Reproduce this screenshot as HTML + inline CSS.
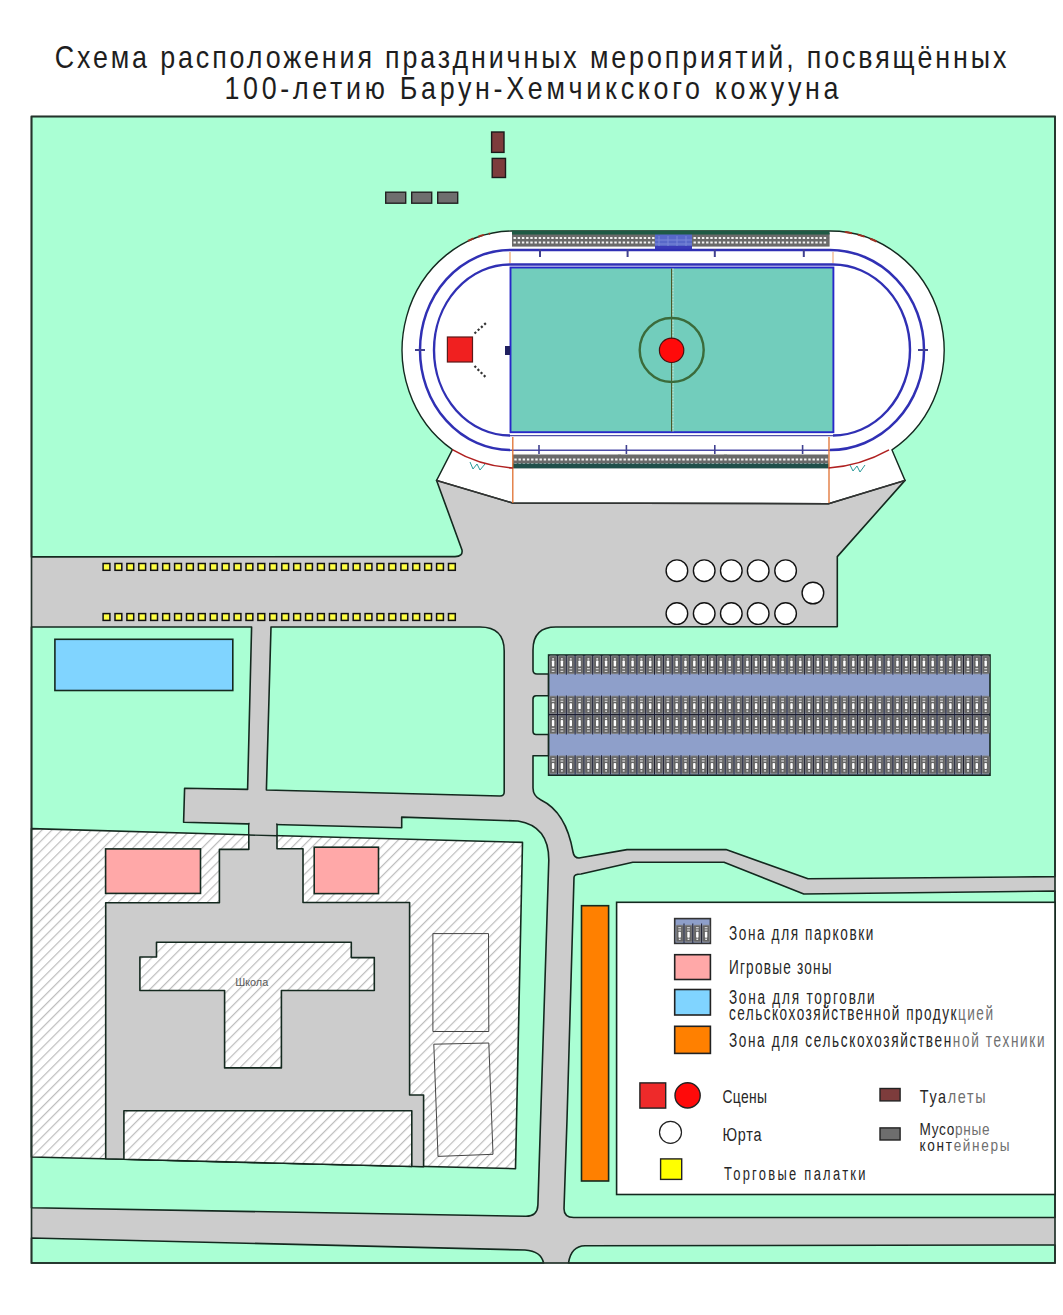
<!DOCTYPE html><html><head><meta charset="utf-8"><style>html,body{margin:0;padding:0;background:#fff;width:1063px;height:1315px;overflow:hidden}svg{display:block}text{font-family:"Liberation Sans",sans-serif}</style></head><body>
<svg width="1063" height="1315" viewBox="0 0 1063 1315">
<defs>
<pattern id="hatch" patternUnits="userSpaceOnUse" width="7" height="7" patternTransform="rotate(45)"><rect width="7" height="7" fill="#fff"/><line x1="0.6" y1="0" x2="0.6" y2="7" stroke="#bdbdbd" stroke-width="1.2"/></pattern>
</defs>
<text transform="translate(54.7,67.9) scale(0.84,1)" x="0" y="0" font-size="32" fill="#1e1e1e" textLength="1133" lengthAdjust="spacing">Схема расположения праздничных мероприятий, посвящённых</text>
<text transform="translate(224.5,99.1) scale(0.84,1)" x="0" y="0" font-size="32" fill="#1e1e1e" textLength="731" lengthAdjust="spacing">100-летию Барун-Хемчикского кожууна</text>
<rect x="31.5" y="116.5" width="1023.5" height="1146.5" fill="#cccccc"/>
<path d="M31.5,116.5 L1055,116.5 L1055,876.6 L808,878.8 L726,849.6 L627,849.6 L579,858 Q574,858 573,852 Q566,812 541,800 Q533,796 533,788 L533,755.7 L548.6,755.7 L548.6,734.5 L536,734.5 Q533,734.5 533,731 L533,699 Q533,695.7 536,695.7 L548.6,695.7 L548.6,674 L537,674 Q533,674 533,670 L533,650 Q533,627 556,627 L837.3,626.6 L837.3,556.6 L905,480.4 L436.6,480.4 L462,550 Q463,556.6 455,556.6 L31.5,556.9 Z" fill="#aaffd4" stroke="#14291f" stroke-width="1.6" stroke-linejoin="round" />
<path d="M271,627 L480,627 Q504.2,627 504.2,651 L504.2,792 Q504.2,796 500,796 L266.4,790 Z" fill="#aaffd4" stroke="#14291f" stroke-width="1.6" stroke-linejoin="round" />
<path d="M31.5,627 L251.6,627 L247.6,789.4 L184.6,788.2 L183.6,822.3 L401.7,827.7 L401.7,817.1 L518,821 Q548.8,826 548.8,860 L537.9,1205 Q537.5,1216.3 526,1216.3 L31.5,1207.7 Z" fill="#aaffd4" stroke="#14291f" stroke-width="1.6" stroke-linejoin="round" />
<path d="M574,877.5 Q574,874 581,874 L632.8,862.2 L724,862.2 L803.8,894 L1055,891 L1055,1217.5 L573.7,1217.5 Q564,1217.5 564,1208.8 L567,1120 Z" fill="#aaffd4" stroke="#14291f" stroke-width="1.6" stroke-linejoin="round" />
<path d="M31.5,1238 L525,1250 Q541,1251 543.6,1263 L31.5,1263 Z" fill="#aaffd4" stroke="#14291f" stroke-width="1.6" stroke-linejoin="round" />
<path d="M568.5,1263 Q571,1246 585,1245.7 L1055,1245 L1055,1263 Z" fill="#aaffd4" stroke="#14291f" stroke-width="1.6" stroke-linejoin="round" />
<polygon points="31.5,828.6 227.5,834.2 522.5,842.4 515.5,1168.7 31.5,1157" fill="url(#hatch)" stroke="#14291f" stroke-width="1.6" stroke-linejoin="round" />
<polygon points="219.4,849.4 248.8,849.4 248.8,823.5 277,824.2 277,848.8 303,848.8 303,902.5 409.6,902.5 409.6,1095 423.6,1095 423.6,1166.7 105.7,1158.8 105.7,902.7 219.4,902.7" fill="#cccccc" stroke="#14291f" stroke-width="1.6" stroke-linejoin="round" />
<rect x="249.7" y="820" width="26.4" height="14" fill="#cccccc"/>
<line x1="248.8" y1="835" x2="277" y2="835.8" stroke="#14291f" stroke-width="1.4"/>
<polygon points="156.5,942.3 351.3,942.3 351.3,957.6 374.3,957.6 374.3,990.5 281.4,990.5 281.4,1067.9 224.6,1067.9 224.6,990.5 139.9,990.5 139.9,957 156.5,957" fill="url(#hatch)" stroke="#14291f" stroke-width="1.6" stroke-linejoin="round" />
<text x="235.2" y="985.5" font-size="11" fill="#5a5a5a" textLength="33" lengthAdjust="spacingAndGlyphs">Школа</text>
<polygon points="123.9,1110.7 411.8,1110.7 411.8,1166.5 123.9,1159.3" fill="url(#hatch)" stroke="#14291f" stroke-width="1.6" stroke-linejoin="round" />
<polygon points="432.9,933.6 488.5,933.6 488.8,1031.5 432.9,1031.5" fill="url(#hatch)" stroke="#444" stroke-width="1" stroke-linejoin="round" />
<polygon points="433.8,1044.2 488.8,1043 493,1154.3 438,1156.4" fill="url(#hatch)" stroke="#444" stroke-width="1" stroke-linejoin="round" />
<rect x="105.6" y="848.9" width="94.9" height="44.5" fill="#ffa8a8" stroke="#14291f" stroke-width="1.6"/>
<rect x="314.2" y="847.2" width="64.3" height="46.4" fill="#ffa8a8" stroke="#14291f" stroke-width="1.6"/>
<rect x="54.9" y="639.3" width="177.9" height="51.2" fill="#80d4ff" stroke="#14291f" stroke-width="1.6"/>
<rect x="581.5" y="905.7" width="27.1" height="275.3" fill="#ff8000" stroke="#14291f" stroke-width="1.6"/>
<rect x="31.5" y="116.5" width="1023.5" height="1146.5" fill="none" stroke="#23332b" stroke-width="1.7"/>
<rect x="103.1" y="563.5" width="6.8" height="6.8" fill="#ffff44" stroke="#111" stroke-width="1.5"/>
<rect x="115.0" y="563.5" width="6.8" height="6.8" fill="#ffff44" stroke="#111" stroke-width="1.5"/>
<rect x="126.9" y="563.5" width="6.8" height="6.8" fill="#ffff44" stroke="#111" stroke-width="1.5"/>
<rect x="138.8" y="563.5" width="6.8" height="6.8" fill="#ffff44" stroke="#111" stroke-width="1.5"/>
<rect x="150.7" y="563.5" width="6.8" height="6.8" fill="#ffff44" stroke="#111" stroke-width="1.5"/>
<rect x="162.7" y="563.5" width="6.8" height="6.8" fill="#ffff44" stroke="#111" stroke-width="1.5"/>
<rect x="174.6" y="563.5" width="6.8" height="6.8" fill="#ffff44" stroke="#111" stroke-width="1.5"/>
<rect x="186.5" y="563.5" width="6.8" height="6.8" fill="#ffff44" stroke="#111" stroke-width="1.5"/>
<rect x="198.4" y="563.5" width="6.8" height="6.8" fill="#ffff44" stroke="#111" stroke-width="1.5"/>
<rect x="210.3" y="563.5" width="6.8" height="6.8" fill="#ffff44" stroke="#111" stroke-width="1.5"/>
<rect x="222.2" y="563.5" width="6.8" height="6.8" fill="#ffff44" stroke="#111" stroke-width="1.5"/>
<rect x="234.1" y="563.5" width="6.8" height="6.8" fill="#ffff44" stroke="#111" stroke-width="1.5"/>
<rect x="246.0" y="563.5" width="6.8" height="6.8" fill="#ffff44" stroke="#111" stroke-width="1.5"/>
<rect x="257.9" y="563.5" width="6.8" height="6.8" fill="#ffff44" stroke="#111" stroke-width="1.5"/>
<rect x="269.8" y="563.5" width="6.8" height="6.8" fill="#ffff44" stroke="#111" stroke-width="1.5"/>
<rect x="281.8" y="563.5" width="6.8" height="6.8" fill="#ffff44" stroke="#111" stroke-width="1.5"/>
<rect x="293.7" y="563.5" width="6.8" height="6.8" fill="#ffff44" stroke="#111" stroke-width="1.5"/>
<rect x="305.6" y="563.5" width="6.8" height="6.8" fill="#ffff44" stroke="#111" stroke-width="1.5"/>
<rect x="317.5" y="563.5" width="6.8" height="6.8" fill="#ffff44" stroke="#111" stroke-width="1.5"/>
<rect x="329.4" y="563.5" width="6.8" height="6.8" fill="#ffff44" stroke="#111" stroke-width="1.5"/>
<rect x="341.3" y="563.5" width="6.8" height="6.8" fill="#ffff44" stroke="#111" stroke-width="1.5"/>
<rect x="353.2" y="563.5" width="6.8" height="6.8" fill="#ffff44" stroke="#111" stroke-width="1.5"/>
<rect x="365.1" y="563.5" width="6.8" height="6.8" fill="#ffff44" stroke="#111" stroke-width="1.5"/>
<rect x="377.0" y="563.5" width="6.8" height="6.8" fill="#ffff44" stroke="#111" stroke-width="1.5"/>
<rect x="388.9" y="563.5" width="6.8" height="6.8" fill="#ffff44" stroke="#111" stroke-width="1.5"/>
<rect x="400.9" y="563.5" width="6.8" height="6.8" fill="#ffff44" stroke="#111" stroke-width="1.5"/>
<rect x="412.8" y="563.5" width="6.8" height="6.8" fill="#ffff44" stroke="#111" stroke-width="1.5"/>
<rect x="424.7" y="563.5" width="6.8" height="6.8" fill="#ffff44" stroke="#111" stroke-width="1.5"/>
<rect x="436.6" y="563.5" width="6.8" height="6.8" fill="#ffff44" stroke="#111" stroke-width="1.5"/>
<rect x="448.5" y="563.5" width="6.8" height="6.8" fill="#ffff44" stroke="#111" stroke-width="1.5"/>
<rect x="103.1" y="613.6" width="6.8" height="6.8" fill="#ffff44" stroke="#111" stroke-width="1.5"/>
<rect x="115.0" y="613.6" width="6.8" height="6.8" fill="#ffff44" stroke="#111" stroke-width="1.5"/>
<rect x="126.9" y="613.6" width="6.8" height="6.8" fill="#ffff44" stroke="#111" stroke-width="1.5"/>
<rect x="138.8" y="613.6" width="6.8" height="6.8" fill="#ffff44" stroke="#111" stroke-width="1.5"/>
<rect x="150.7" y="613.6" width="6.8" height="6.8" fill="#ffff44" stroke="#111" stroke-width="1.5"/>
<rect x="162.7" y="613.6" width="6.8" height="6.8" fill="#ffff44" stroke="#111" stroke-width="1.5"/>
<rect x="174.6" y="613.6" width="6.8" height="6.8" fill="#ffff44" stroke="#111" stroke-width="1.5"/>
<rect x="186.5" y="613.6" width="6.8" height="6.8" fill="#ffff44" stroke="#111" stroke-width="1.5"/>
<rect x="198.4" y="613.6" width="6.8" height="6.8" fill="#ffff44" stroke="#111" stroke-width="1.5"/>
<rect x="210.3" y="613.6" width="6.8" height="6.8" fill="#ffff44" stroke="#111" stroke-width="1.5"/>
<rect x="222.2" y="613.6" width="6.8" height="6.8" fill="#ffff44" stroke="#111" stroke-width="1.5"/>
<rect x="234.1" y="613.6" width="6.8" height="6.8" fill="#ffff44" stroke="#111" stroke-width="1.5"/>
<rect x="246.0" y="613.6" width="6.8" height="6.8" fill="#ffff44" stroke="#111" stroke-width="1.5"/>
<rect x="257.9" y="613.6" width="6.8" height="6.8" fill="#ffff44" stroke="#111" stroke-width="1.5"/>
<rect x="269.8" y="613.6" width="6.8" height="6.8" fill="#ffff44" stroke="#111" stroke-width="1.5"/>
<rect x="281.8" y="613.6" width="6.8" height="6.8" fill="#ffff44" stroke="#111" stroke-width="1.5"/>
<rect x="293.7" y="613.6" width="6.8" height="6.8" fill="#ffff44" stroke="#111" stroke-width="1.5"/>
<rect x="305.6" y="613.6" width="6.8" height="6.8" fill="#ffff44" stroke="#111" stroke-width="1.5"/>
<rect x="317.5" y="613.6" width="6.8" height="6.8" fill="#ffff44" stroke="#111" stroke-width="1.5"/>
<rect x="329.4" y="613.6" width="6.8" height="6.8" fill="#ffff44" stroke="#111" stroke-width="1.5"/>
<rect x="341.3" y="613.6" width="6.8" height="6.8" fill="#ffff44" stroke="#111" stroke-width="1.5"/>
<rect x="353.2" y="613.6" width="6.8" height="6.8" fill="#ffff44" stroke="#111" stroke-width="1.5"/>
<rect x="365.1" y="613.6" width="6.8" height="6.8" fill="#ffff44" stroke="#111" stroke-width="1.5"/>
<rect x="377.0" y="613.6" width="6.8" height="6.8" fill="#ffff44" stroke="#111" stroke-width="1.5"/>
<rect x="388.9" y="613.6" width="6.8" height="6.8" fill="#ffff44" stroke="#111" stroke-width="1.5"/>
<rect x="400.9" y="613.6" width="6.8" height="6.8" fill="#ffff44" stroke="#111" stroke-width="1.5"/>
<rect x="412.8" y="613.6" width="6.8" height="6.8" fill="#ffff44" stroke="#111" stroke-width="1.5"/>
<rect x="424.7" y="613.6" width="6.8" height="6.8" fill="#ffff44" stroke="#111" stroke-width="1.5"/>
<rect x="436.6" y="613.6" width="6.8" height="6.8" fill="#ffff44" stroke="#111" stroke-width="1.5"/>
<rect x="448.5" y="613.6" width="6.8" height="6.8" fill="#ffff44" stroke="#111" stroke-width="1.5"/>
<circle cx="676.9" cy="570.7" r="10.8" fill="#fff" stroke="#111" stroke-width="1.4"/>
<circle cx="704.2" cy="570.7" r="10.8" fill="#fff" stroke="#111" stroke-width="1.4"/>
<circle cx="731.3" cy="570.7" r="10.8" fill="#fff" stroke="#111" stroke-width="1.4"/>
<circle cx="758.2" cy="570.7" r="10.8" fill="#fff" stroke="#111" stroke-width="1.4"/>
<circle cx="785.6" cy="570.7" r="10.8" fill="#fff" stroke="#111" stroke-width="1.4"/>
<circle cx="676.9" cy="613.6" r="10.8" fill="#fff" stroke="#111" stroke-width="1.4"/>
<circle cx="704.2" cy="613.6" r="10.8" fill="#fff" stroke="#111" stroke-width="1.4"/>
<circle cx="731.3" cy="613.6" r="10.8" fill="#fff" stroke="#111" stroke-width="1.4"/>
<circle cx="758.2" cy="613.6" r="10.8" fill="#fff" stroke="#111" stroke-width="1.4"/>
<circle cx="785.6" cy="613.6" r="10.8" fill="#fff" stroke="#111" stroke-width="1.4"/>
<circle cx="812.9" cy="593" r="10.8" fill="#fff" stroke="#111" stroke-width="1.4"/>
<rect x="548.6" y="655" width="441.4" height="120.2" fill="#8e9fca" stroke="#14291f" stroke-width="1.6"/>
<rect x="549.6" y="656.0" width="7" height="17.7" rx="1" fill="#666" stroke="#828282" stroke-width="0.9"/>
<rect x="552.2" y="658.2" width="1.8" height="1.4" fill="#e6e6e6"/>
<rect x="551.9" y="660.4" width="2.4" height="6.2" rx="0.8" fill="#fff"/>
<rect x="551.7" y="668.1" width="2.8" height="1.2" fill="#d8d8d8"/>
<rect x="551.7" y="670.8" width="2.8" height="1.2" fill="#d8d8d8"/>
<rect x="558.4" y="656.0" width="7" height="17.7" rx="1" fill="#666" stroke="#828282" stroke-width="0.9"/>
<rect x="561.0" y="658.2" width="1.8" height="1.4" fill="#e6e6e6"/>
<rect x="560.7" y="660.4" width="2.4" height="6.2" rx="0.8" fill="#fff"/>
<rect x="560.5" y="668.1" width="2.8" height="1.2" fill="#d8d8d8"/>
<rect x="560.5" y="670.8" width="2.8" height="1.2" fill="#d8d8d8"/>
<line x1="557.4" y1="655.2" x2="557.4" y2="674.7" stroke="#1c1c2c" stroke-width="1"/>
<rect x="567.3" y="656.0" width="7" height="17.7" rx="1" fill="#666" stroke="#828282" stroke-width="0.9"/>
<rect x="569.9" y="658.2" width="1.8" height="1.4" fill="#e6e6e6"/>
<rect x="569.6" y="660.4" width="2.4" height="6.2" rx="0.8" fill="#fff"/>
<rect x="569.4" y="668.1" width="2.8" height="1.2" fill="#d8d8d8"/>
<rect x="569.4" y="670.8" width="2.8" height="1.2" fill="#d8d8d8"/>
<line x1="566.3" y1="655.2" x2="566.3" y2="674.7" stroke="#1c1c2c" stroke-width="1"/>
<rect x="576.1" y="656.0" width="7" height="17.7" rx="1" fill="#666" stroke="#828282" stroke-width="0.9"/>
<rect x="578.7" y="658.2" width="1.8" height="1.4" fill="#e6e6e6"/>
<rect x="578.4" y="660.4" width="2.4" height="6.2" rx="0.8" fill="#fff"/>
<rect x="578.2" y="668.1" width="2.8" height="1.2" fill="#d8d8d8"/>
<rect x="578.2" y="670.8" width="2.8" height="1.2" fill="#d8d8d8"/>
<line x1="575.1" y1="655.2" x2="575.1" y2="674.7" stroke="#1c1c2c" stroke-width="1"/>
<rect x="584.9" y="656.0" width="7" height="17.7" rx="1" fill="#666" stroke="#828282" stroke-width="0.9"/>
<rect x="587.5" y="658.2" width="1.8" height="1.4" fill="#e6e6e6"/>
<rect x="587.2" y="660.4" width="2.4" height="6.2" rx="0.8" fill="#fff"/>
<rect x="587.0" y="668.1" width="2.8" height="1.2" fill="#d8d8d8"/>
<rect x="587.0" y="670.8" width="2.8" height="1.2" fill="#d8d8d8"/>
<line x1="583.9" y1="655.2" x2="583.9" y2="674.7" stroke="#1c1c2c" stroke-width="1"/>
<rect x="593.7" y="656.0" width="7" height="17.7" rx="1" fill="#666" stroke="#828282" stroke-width="0.9"/>
<rect x="596.3" y="658.2" width="1.8" height="1.4" fill="#e6e6e6"/>
<rect x="596.0" y="660.4" width="2.4" height="6.2" rx="0.8" fill="#fff"/>
<rect x="595.8" y="668.1" width="2.8" height="1.2" fill="#d8d8d8"/>
<rect x="595.8" y="670.8" width="2.8" height="1.2" fill="#d8d8d8"/>
<line x1="592.7" y1="655.2" x2="592.7" y2="674.7" stroke="#1c1c2c" stroke-width="1"/>
<rect x="602.6" y="656.0" width="7" height="17.7" rx="1" fill="#666" stroke="#828282" stroke-width="0.9"/>
<rect x="605.2" y="658.2" width="1.8" height="1.4" fill="#e6e6e6"/>
<rect x="604.9" y="660.4" width="2.4" height="6.2" rx="0.8" fill="#fff"/>
<rect x="604.7" y="668.1" width="2.8" height="1.2" fill="#d8d8d8"/>
<rect x="604.7" y="670.8" width="2.8" height="1.2" fill="#d8d8d8"/>
<line x1="601.6" y1="655.2" x2="601.6" y2="674.7" stroke="#1c1c2c" stroke-width="1"/>
<rect x="611.4" y="656.0" width="7" height="17.7" rx="1" fill="#666" stroke="#828282" stroke-width="0.9"/>
<rect x="614.0" y="658.2" width="1.8" height="1.4" fill="#e6e6e6"/>
<rect x="613.7" y="660.4" width="2.4" height="6.2" rx="0.8" fill="#fff"/>
<rect x="613.5" y="668.1" width="2.8" height="1.2" fill="#d8d8d8"/>
<rect x="613.5" y="670.8" width="2.8" height="1.2" fill="#d8d8d8"/>
<line x1="610.4" y1="655.2" x2="610.4" y2="674.7" stroke="#1c1c2c" stroke-width="1"/>
<rect x="620.2" y="656.0" width="7" height="17.7" rx="1" fill="#666" stroke="#828282" stroke-width="0.9"/>
<rect x="622.8" y="658.2" width="1.8" height="1.4" fill="#e6e6e6"/>
<rect x="622.5" y="660.4" width="2.4" height="6.2" rx="0.8" fill="#fff"/>
<rect x="622.3" y="668.1" width="2.8" height="1.2" fill="#d8d8d8"/>
<rect x="622.3" y="670.8" width="2.8" height="1.2" fill="#d8d8d8"/>
<line x1="619.2" y1="655.2" x2="619.2" y2="674.7" stroke="#1c1c2c" stroke-width="1"/>
<rect x="629.1" y="656.0" width="7" height="17.7" rx="1" fill="#666" stroke="#828282" stroke-width="0.9"/>
<rect x="631.7" y="658.2" width="1.8" height="1.4" fill="#e6e6e6"/>
<rect x="631.4" y="660.4" width="2.4" height="6.2" rx="0.8" fill="#fff"/>
<rect x="631.2" y="668.1" width="2.8" height="1.2" fill="#d8d8d8"/>
<rect x="631.2" y="670.8" width="2.8" height="1.2" fill="#d8d8d8"/>
<line x1="628.1" y1="655.2" x2="628.1" y2="674.7" stroke="#1c1c2c" stroke-width="1"/>
<rect x="637.9" y="656.0" width="7" height="17.7" rx="1" fill="#666" stroke="#828282" stroke-width="0.9"/>
<rect x="640.5" y="658.2" width="1.8" height="1.4" fill="#e6e6e6"/>
<rect x="640.2" y="660.4" width="2.4" height="6.2" rx="0.8" fill="#fff"/>
<rect x="640.0" y="668.1" width="2.8" height="1.2" fill="#d8d8d8"/>
<rect x="640.0" y="670.8" width="2.8" height="1.2" fill="#d8d8d8"/>
<line x1="636.9" y1="655.2" x2="636.9" y2="674.7" stroke="#1c1c2c" stroke-width="1"/>
<rect x="646.7" y="656.0" width="7" height="17.7" rx="1" fill="#666" stroke="#828282" stroke-width="0.9"/>
<rect x="649.3" y="658.2" width="1.8" height="1.4" fill="#e6e6e6"/>
<rect x="649.0" y="660.4" width="2.4" height="6.2" rx="0.8" fill="#fff"/>
<rect x="648.8" y="668.1" width="2.8" height="1.2" fill="#d8d8d8"/>
<rect x="648.8" y="670.8" width="2.8" height="1.2" fill="#d8d8d8"/>
<line x1="645.7" y1="655.2" x2="645.7" y2="674.7" stroke="#1c1c2c" stroke-width="1"/>
<rect x="655.5" y="656.0" width="7" height="17.7" rx="1" fill="#666" stroke="#828282" stroke-width="0.9"/>
<rect x="658.1" y="658.2" width="1.8" height="1.4" fill="#e6e6e6"/>
<rect x="657.8" y="660.4" width="2.4" height="6.2" rx="0.8" fill="#fff"/>
<rect x="657.6" y="668.1" width="2.8" height="1.2" fill="#d8d8d8"/>
<rect x="657.6" y="670.8" width="2.8" height="1.2" fill="#d8d8d8"/>
<line x1="654.5" y1="655.2" x2="654.5" y2="674.7" stroke="#1c1c2c" stroke-width="1"/>
<rect x="664.4" y="656.0" width="7" height="17.7" rx="1" fill="#666" stroke="#828282" stroke-width="0.9"/>
<rect x="667.0" y="658.2" width="1.8" height="1.4" fill="#e6e6e6"/>
<rect x="666.7" y="660.4" width="2.4" height="6.2" rx="0.8" fill="#fff"/>
<rect x="666.5" y="668.1" width="2.8" height="1.2" fill="#d8d8d8"/>
<rect x="666.5" y="670.8" width="2.8" height="1.2" fill="#d8d8d8"/>
<line x1="663.4" y1="655.2" x2="663.4" y2="674.7" stroke="#1c1c2c" stroke-width="1"/>
<rect x="673.2" y="656.0" width="7" height="17.7" rx="1" fill="#666" stroke="#828282" stroke-width="0.9"/>
<rect x="675.8" y="658.2" width="1.8" height="1.4" fill="#e6e6e6"/>
<rect x="675.5" y="660.4" width="2.4" height="6.2" rx="0.8" fill="#fff"/>
<rect x="675.3" y="668.1" width="2.8" height="1.2" fill="#d8d8d8"/>
<rect x="675.3" y="670.8" width="2.8" height="1.2" fill="#d8d8d8"/>
<line x1="672.2" y1="655.2" x2="672.2" y2="674.7" stroke="#1c1c2c" stroke-width="1"/>
<rect x="682.0" y="656.0" width="7" height="17.7" rx="1" fill="#666" stroke="#828282" stroke-width="0.9"/>
<rect x="684.6" y="658.2" width="1.8" height="1.4" fill="#e6e6e6"/>
<rect x="684.3" y="660.4" width="2.4" height="6.2" rx="0.8" fill="#fff"/>
<rect x="684.1" y="668.1" width="2.8" height="1.2" fill="#d8d8d8"/>
<rect x="684.1" y="670.8" width="2.8" height="1.2" fill="#d8d8d8"/>
<line x1="681.0" y1="655.2" x2="681.0" y2="674.7" stroke="#1c1c2c" stroke-width="1"/>
<rect x="690.8" y="656.0" width="7" height="17.7" rx="1" fill="#666" stroke="#828282" stroke-width="0.9"/>
<rect x="693.4" y="658.2" width="1.8" height="1.4" fill="#e6e6e6"/>
<rect x="693.1" y="660.4" width="2.4" height="6.2" rx="0.8" fill="#fff"/>
<rect x="692.9" y="668.1" width="2.8" height="1.2" fill="#d8d8d8"/>
<rect x="692.9" y="670.8" width="2.8" height="1.2" fill="#d8d8d8"/>
<line x1="689.8" y1="655.2" x2="689.8" y2="674.7" stroke="#1c1c2c" stroke-width="1"/>
<rect x="699.7" y="656.0" width="7" height="17.7" rx="1" fill="#666" stroke="#828282" stroke-width="0.9"/>
<rect x="702.3" y="658.2" width="1.8" height="1.4" fill="#e6e6e6"/>
<rect x="702.0" y="660.4" width="2.4" height="6.2" rx="0.8" fill="#fff"/>
<rect x="701.8" y="668.1" width="2.8" height="1.2" fill="#d8d8d8"/>
<rect x="701.8" y="670.8" width="2.8" height="1.2" fill="#d8d8d8"/>
<line x1="698.7" y1="655.2" x2="698.7" y2="674.7" stroke="#1c1c2c" stroke-width="1"/>
<rect x="708.5" y="656.0" width="7" height="17.7" rx="1" fill="#666" stroke="#828282" stroke-width="0.9"/>
<rect x="711.1" y="658.2" width="1.8" height="1.4" fill="#e6e6e6"/>
<rect x="710.8" y="660.4" width="2.4" height="6.2" rx="0.8" fill="#fff"/>
<rect x="710.6" y="668.1" width="2.8" height="1.2" fill="#d8d8d8"/>
<rect x="710.6" y="670.8" width="2.8" height="1.2" fill="#d8d8d8"/>
<line x1="707.5" y1="655.2" x2="707.5" y2="674.7" stroke="#1c1c2c" stroke-width="1"/>
<rect x="717.3" y="656.0" width="7" height="17.7" rx="1" fill="#666" stroke="#828282" stroke-width="0.9"/>
<rect x="719.9" y="658.2" width="1.8" height="1.4" fill="#e6e6e6"/>
<rect x="719.6" y="660.4" width="2.4" height="6.2" rx="0.8" fill="#fff"/>
<rect x="719.4" y="668.1" width="2.8" height="1.2" fill="#d8d8d8"/>
<rect x="719.4" y="670.8" width="2.8" height="1.2" fill="#d8d8d8"/>
<line x1="716.3" y1="655.2" x2="716.3" y2="674.7" stroke="#1c1c2c" stroke-width="1"/>
<rect x="726.2" y="656.0" width="7" height="17.7" rx="1" fill="#666" stroke="#828282" stroke-width="0.9"/>
<rect x="728.8" y="658.2" width="1.8" height="1.4" fill="#e6e6e6"/>
<rect x="728.5" y="660.4" width="2.4" height="6.2" rx="0.8" fill="#fff"/>
<rect x="728.3" y="668.1" width="2.8" height="1.2" fill="#d8d8d8"/>
<rect x="728.3" y="670.8" width="2.8" height="1.2" fill="#d8d8d8"/>
<line x1="725.2" y1="655.2" x2="725.2" y2="674.7" stroke="#1c1c2c" stroke-width="1"/>
<rect x="735.0" y="656.0" width="7" height="17.7" rx="1" fill="#666" stroke="#828282" stroke-width="0.9"/>
<rect x="737.6" y="658.2" width="1.8" height="1.4" fill="#e6e6e6"/>
<rect x="737.3" y="660.4" width="2.4" height="6.2" rx="0.8" fill="#fff"/>
<rect x="737.1" y="668.1" width="2.8" height="1.2" fill="#d8d8d8"/>
<rect x="737.1" y="670.8" width="2.8" height="1.2" fill="#d8d8d8"/>
<line x1="734.0" y1="655.2" x2="734.0" y2="674.7" stroke="#1c1c2c" stroke-width="1"/>
<rect x="743.8" y="656.0" width="7" height="17.7" rx="1" fill="#666" stroke="#828282" stroke-width="0.9"/>
<rect x="746.4" y="658.2" width="1.8" height="1.4" fill="#e6e6e6"/>
<rect x="746.1" y="660.4" width="2.4" height="6.2" rx="0.8" fill="#fff"/>
<rect x="745.9" y="668.1" width="2.8" height="1.2" fill="#d8d8d8"/>
<rect x="745.9" y="670.8" width="2.8" height="1.2" fill="#d8d8d8"/>
<line x1="742.8" y1="655.2" x2="742.8" y2="674.7" stroke="#1c1c2c" stroke-width="1"/>
<rect x="752.6" y="656.0" width="7" height="17.7" rx="1" fill="#666" stroke="#828282" stroke-width="0.9"/>
<rect x="755.2" y="658.2" width="1.8" height="1.4" fill="#e6e6e6"/>
<rect x="754.9" y="660.4" width="2.4" height="6.2" rx="0.8" fill="#fff"/>
<rect x="754.7" y="668.1" width="2.8" height="1.2" fill="#d8d8d8"/>
<rect x="754.7" y="670.8" width="2.8" height="1.2" fill="#d8d8d8"/>
<line x1="751.6" y1="655.2" x2="751.6" y2="674.7" stroke="#1c1c2c" stroke-width="1"/>
<rect x="761.5" y="656.0" width="7" height="17.7" rx="1" fill="#666" stroke="#828282" stroke-width="0.9"/>
<rect x="764.1" y="658.2" width="1.8" height="1.4" fill="#e6e6e6"/>
<rect x="763.8" y="660.4" width="2.4" height="6.2" rx="0.8" fill="#fff"/>
<rect x="763.6" y="668.1" width="2.8" height="1.2" fill="#d8d8d8"/>
<rect x="763.6" y="670.8" width="2.8" height="1.2" fill="#d8d8d8"/>
<line x1="760.5" y1="655.2" x2="760.5" y2="674.7" stroke="#1c1c2c" stroke-width="1"/>
<rect x="770.3" y="656.0" width="7" height="17.7" rx="1" fill="#666" stroke="#828282" stroke-width="0.9"/>
<rect x="772.9" y="658.2" width="1.8" height="1.4" fill="#e6e6e6"/>
<rect x="772.6" y="660.4" width="2.4" height="6.2" rx="0.8" fill="#fff"/>
<rect x="772.4" y="668.1" width="2.8" height="1.2" fill="#d8d8d8"/>
<rect x="772.4" y="670.8" width="2.8" height="1.2" fill="#d8d8d8"/>
<line x1="769.3" y1="655.2" x2="769.3" y2="674.7" stroke="#1c1c2c" stroke-width="1"/>
<rect x="779.1" y="656.0" width="7" height="17.7" rx="1" fill="#666" stroke="#828282" stroke-width="0.9"/>
<rect x="781.7" y="658.2" width="1.8" height="1.4" fill="#e6e6e6"/>
<rect x="781.4" y="660.4" width="2.4" height="6.2" rx="0.8" fill="#fff"/>
<rect x="781.2" y="668.1" width="2.8" height="1.2" fill="#d8d8d8"/>
<rect x="781.2" y="670.8" width="2.8" height="1.2" fill="#d8d8d8"/>
<line x1="778.1" y1="655.2" x2="778.1" y2="674.7" stroke="#1c1c2c" stroke-width="1"/>
<rect x="788.0" y="656.0" width="7" height="17.7" rx="1" fill="#666" stroke="#828282" stroke-width="0.9"/>
<rect x="790.6" y="658.2" width="1.8" height="1.4" fill="#e6e6e6"/>
<rect x="790.3" y="660.4" width="2.4" height="6.2" rx="0.8" fill="#fff"/>
<rect x="790.1" y="668.1" width="2.8" height="1.2" fill="#d8d8d8"/>
<rect x="790.1" y="670.8" width="2.8" height="1.2" fill="#d8d8d8"/>
<line x1="787.0" y1="655.2" x2="787.0" y2="674.7" stroke="#1c1c2c" stroke-width="1"/>
<rect x="796.8" y="656.0" width="7" height="17.7" rx="1" fill="#666" stroke="#828282" stroke-width="0.9"/>
<rect x="799.4" y="658.2" width="1.8" height="1.4" fill="#e6e6e6"/>
<rect x="799.1" y="660.4" width="2.4" height="6.2" rx="0.8" fill="#fff"/>
<rect x="798.9" y="668.1" width="2.8" height="1.2" fill="#d8d8d8"/>
<rect x="798.9" y="670.8" width="2.8" height="1.2" fill="#d8d8d8"/>
<line x1="795.8" y1="655.2" x2="795.8" y2="674.7" stroke="#1c1c2c" stroke-width="1"/>
<rect x="805.6" y="656.0" width="7" height="17.7" rx="1" fill="#666" stroke="#828282" stroke-width="0.9"/>
<rect x="808.2" y="658.2" width="1.8" height="1.4" fill="#e6e6e6"/>
<rect x="807.9" y="660.4" width="2.4" height="6.2" rx="0.8" fill="#fff"/>
<rect x="807.7" y="668.1" width="2.8" height="1.2" fill="#d8d8d8"/>
<rect x="807.7" y="670.8" width="2.8" height="1.2" fill="#d8d8d8"/>
<line x1="804.6" y1="655.2" x2="804.6" y2="674.7" stroke="#1c1c2c" stroke-width="1"/>
<rect x="814.4" y="656.0" width="7" height="17.7" rx="1" fill="#666" stroke="#828282" stroke-width="0.9"/>
<rect x="817.0" y="658.2" width="1.8" height="1.4" fill="#e6e6e6"/>
<rect x="816.7" y="660.4" width="2.4" height="6.2" rx="0.8" fill="#fff"/>
<rect x="816.5" y="668.1" width="2.8" height="1.2" fill="#d8d8d8"/>
<rect x="816.5" y="670.8" width="2.8" height="1.2" fill="#d8d8d8"/>
<line x1="813.4" y1="655.2" x2="813.4" y2="674.7" stroke="#1c1c2c" stroke-width="1"/>
<rect x="823.3" y="656.0" width="7" height="17.7" rx="1" fill="#666" stroke="#828282" stroke-width="0.9"/>
<rect x="825.9" y="658.2" width="1.8" height="1.4" fill="#e6e6e6"/>
<rect x="825.6" y="660.4" width="2.4" height="6.2" rx="0.8" fill="#fff"/>
<rect x="825.4" y="668.1" width="2.8" height="1.2" fill="#d8d8d8"/>
<rect x="825.4" y="670.8" width="2.8" height="1.2" fill="#d8d8d8"/>
<line x1="822.3" y1="655.2" x2="822.3" y2="674.7" stroke="#1c1c2c" stroke-width="1"/>
<rect x="832.1" y="656.0" width="7" height="17.7" rx="1" fill="#666" stroke="#828282" stroke-width="0.9"/>
<rect x="834.7" y="658.2" width="1.8" height="1.4" fill="#e6e6e6"/>
<rect x="834.4" y="660.4" width="2.4" height="6.2" rx="0.8" fill="#fff"/>
<rect x="834.2" y="668.1" width="2.8" height="1.2" fill="#d8d8d8"/>
<rect x="834.2" y="670.8" width="2.8" height="1.2" fill="#d8d8d8"/>
<line x1="831.1" y1="655.2" x2="831.1" y2="674.7" stroke="#1c1c2c" stroke-width="1"/>
<rect x="840.9" y="656.0" width="7" height="17.7" rx="1" fill="#666" stroke="#828282" stroke-width="0.9"/>
<rect x="843.5" y="658.2" width="1.8" height="1.4" fill="#e6e6e6"/>
<rect x="843.2" y="660.4" width="2.4" height="6.2" rx="0.8" fill="#fff"/>
<rect x="843.0" y="668.1" width="2.8" height="1.2" fill="#d8d8d8"/>
<rect x="843.0" y="670.8" width="2.8" height="1.2" fill="#d8d8d8"/>
<line x1="839.9" y1="655.2" x2="839.9" y2="674.7" stroke="#1c1c2c" stroke-width="1"/>
<rect x="849.8" y="656.0" width="7" height="17.7" rx="1" fill="#666" stroke="#828282" stroke-width="0.9"/>
<rect x="852.4" y="658.2" width="1.8" height="1.4" fill="#e6e6e6"/>
<rect x="852.1" y="660.4" width="2.4" height="6.2" rx="0.8" fill="#fff"/>
<rect x="851.9" y="668.1" width="2.8" height="1.2" fill="#d8d8d8"/>
<rect x="851.9" y="670.8" width="2.8" height="1.2" fill="#d8d8d8"/>
<line x1="848.8" y1="655.2" x2="848.8" y2="674.7" stroke="#1c1c2c" stroke-width="1"/>
<rect x="858.6" y="656.0" width="7" height="17.7" rx="1" fill="#666" stroke="#828282" stroke-width="0.9"/>
<rect x="861.2" y="658.2" width="1.8" height="1.4" fill="#e6e6e6"/>
<rect x="860.9" y="660.4" width="2.4" height="6.2" rx="0.8" fill="#fff"/>
<rect x="860.7" y="668.1" width="2.8" height="1.2" fill="#d8d8d8"/>
<rect x="860.7" y="670.8" width="2.8" height="1.2" fill="#d8d8d8"/>
<line x1="857.6" y1="655.2" x2="857.6" y2="674.7" stroke="#1c1c2c" stroke-width="1"/>
<rect x="867.4" y="656.0" width="7" height="17.7" rx="1" fill="#666" stroke="#828282" stroke-width="0.9"/>
<rect x="870.0" y="658.2" width="1.8" height="1.4" fill="#e6e6e6"/>
<rect x="869.7" y="660.4" width="2.4" height="6.2" rx="0.8" fill="#fff"/>
<rect x="869.5" y="668.1" width="2.8" height="1.2" fill="#d8d8d8"/>
<rect x="869.5" y="670.8" width="2.8" height="1.2" fill="#d8d8d8"/>
<line x1="866.4" y1="655.2" x2="866.4" y2="674.7" stroke="#1c1c2c" stroke-width="1"/>
<rect x="876.2" y="656.0" width="7" height="17.7" rx="1" fill="#666" stroke="#828282" stroke-width="0.9"/>
<rect x="878.8" y="658.2" width="1.8" height="1.4" fill="#e6e6e6"/>
<rect x="878.5" y="660.4" width="2.4" height="6.2" rx="0.8" fill="#fff"/>
<rect x="878.3" y="668.1" width="2.8" height="1.2" fill="#d8d8d8"/>
<rect x="878.3" y="670.8" width="2.8" height="1.2" fill="#d8d8d8"/>
<line x1="875.2" y1="655.2" x2="875.2" y2="674.7" stroke="#1c1c2c" stroke-width="1"/>
<rect x="885.1" y="656.0" width="7" height="17.7" rx="1" fill="#666" stroke="#828282" stroke-width="0.9"/>
<rect x="887.7" y="658.2" width="1.8" height="1.4" fill="#e6e6e6"/>
<rect x="887.4" y="660.4" width="2.4" height="6.2" rx="0.8" fill="#fff"/>
<rect x="887.2" y="668.1" width="2.8" height="1.2" fill="#d8d8d8"/>
<rect x="887.2" y="670.8" width="2.8" height="1.2" fill="#d8d8d8"/>
<line x1="884.1" y1="655.2" x2="884.1" y2="674.7" stroke="#1c1c2c" stroke-width="1"/>
<rect x="893.9" y="656.0" width="7" height="17.7" rx="1" fill="#666" stroke="#828282" stroke-width="0.9"/>
<rect x="896.5" y="658.2" width="1.8" height="1.4" fill="#e6e6e6"/>
<rect x="896.2" y="660.4" width="2.4" height="6.2" rx="0.8" fill="#fff"/>
<rect x="896.0" y="668.1" width="2.8" height="1.2" fill="#d8d8d8"/>
<rect x="896.0" y="670.8" width="2.8" height="1.2" fill="#d8d8d8"/>
<line x1="892.9" y1="655.2" x2="892.9" y2="674.7" stroke="#1c1c2c" stroke-width="1"/>
<rect x="902.7" y="656.0" width="7" height="17.7" rx="1" fill="#666" stroke="#828282" stroke-width="0.9"/>
<rect x="905.3" y="658.2" width="1.8" height="1.4" fill="#e6e6e6"/>
<rect x="905.0" y="660.4" width="2.4" height="6.2" rx="0.8" fill="#fff"/>
<rect x="904.8" y="668.1" width="2.8" height="1.2" fill="#d8d8d8"/>
<rect x="904.8" y="670.8" width="2.8" height="1.2" fill="#d8d8d8"/>
<line x1="901.7" y1="655.2" x2="901.7" y2="674.7" stroke="#1c1c2c" stroke-width="1"/>
<rect x="911.5" y="656.0" width="7" height="17.7" rx="1" fill="#666" stroke="#828282" stroke-width="0.9"/>
<rect x="914.1" y="658.2" width="1.8" height="1.4" fill="#e6e6e6"/>
<rect x="913.8" y="660.4" width="2.4" height="6.2" rx="0.8" fill="#fff"/>
<rect x="913.6" y="668.1" width="2.8" height="1.2" fill="#d8d8d8"/>
<rect x="913.6" y="670.8" width="2.8" height="1.2" fill="#d8d8d8"/>
<line x1="910.5" y1="655.2" x2="910.5" y2="674.7" stroke="#1c1c2c" stroke-width="1"/>
<rect x="920.4" y="656.0" width="7" height="17.7" rx="1" fill="#666" stroke="#828282" stroke-width="0.9"/>
<rect x="923.0" y="658.2" width="1.8" height="1.4" fill="#e6e6e6"/>
<rect x="922.7" y="660.4" width="2.4" height="6.2" rx="0.8" fill="#fff"/>
<rect x="922.5" y="668.1" width="2.8" height="1.2" fill="#d8d8d8"/>
<rect x="922.5" y="670.8" width="2.8" height="1.2" fill="#d8d8d8"/>
<line x1="919.4" y1="655.2" x2="919.4" y2="674.7" stroke="#1c1c2c" stroke-width="1"/>
<rect x="929.2" y="656.0" width="7" height="17.7" rx="1" fill="#666" stroke="#828282" stroke-width="0.9"/>
<rect x="931.8" y="658.2" width="1.8" height="1.4" fill="#e6e6e6"/>
<rect x="931.5" y="660.4" width="2.4" height="6.2" rx="0.8" fill="#fff"/>
<rect x="931.3" y="668.1" width="2.8" height="1.2" fill="#d8d8d8"/>
<rect x="931.3" y="670.8" width="2.8" height="1.2" fill="#d8d8d8"/>
<line x1="928.2" y1="655.2" x2="928.2" y2="674.7" stroke="#1c1c2c" stroke-width="1"/>
<rect x="938.0" y="656.0" width="7" height="17.7" rx="1" fill="#666" stroke="#828282" stroke-width="0.9"/>
<rect x="940.6" y="658.2" width="1.8" height="1.4" fill="#e6e6e6"/>
<rect x="940.3" y="660.4" width="2.4" height="6.2" rx="0.8" fill="#fff"/>
<rect x="940.1" y="668.1" width="2.8" height="1.2" fill="#d8d8d8"/>
<rect x="940.1" y="670.8" width="2.8" height="1.2" fill="#d8d8d8"/>
<line x1="937.0" y1="655.2" x2="937.0" y2="674.7" stroke="#1c1c2c" stroke-width="1"/>
<rect x="946.9" y="656.0" width="7" height="17.7" rx="1" fill="#666" stroke="#828282" stroke-width="0.9"/>
<rect x="949.5" y="658.2" width="1.8" height="1.4" fill="#e6e6e6"/>
<rect x="949.2" y="660.4" width="2.4" height="6.2" rx="0.8" fill="#fff"/>
<rect x="949.0" y="668.1" width="2.8" height="1.2" fill="#d8d8d8"/>
<rect x="949.0" y="670.8" width="2.8" height="1.2" fill="#d8d8d8"/>
<line x1="945.9" y1="655.2" x2="945.9" y2="674.7" stroke="#1c1c2c" stroke-width="1"/>
<rect x="955.7" y="656.0" width="7" height="17.7" rx="1" fill="#666" stroke="#828282" stroke-width="0.9"/>
<rect x="958.3" y="658.2" width="1.8" height="1.4" fill="#e6e6e6"/>
<rect x="958.0" y="660.4" width="2.4" height="6.2" rx="0.8" fill="#fff"/>
<rect x="957.8" y="668.1" width="2.8" height="1.2" fill="#d8d8d8"/>
<rect x="957.8" y="670.8" width="2.8" height="1.2" fill="#d8d8d8"/>
<line x1="954.7" y1="655.2" x2="954.7" y2="674.7" stroke="#1c1c2c" stroke-width="1"/>
<rect x="964.5" y="656.0" width="7" height="17.7" rx="1" fill="#666" stroke="#828282" stroke-width="0.9"/>
<rect x="967.1" y="658.2" width="1.8" height="1.4" fill="#e6e6e6"/>
<rect x="966.8" y="660.4" width="2.4" height="6.2" rx="0.8" fill="#fff"/>
<rect x="966.6" y="668.1" width="2.8" height="1.2" fill="#d8d8d8"/>
<rect x="966.6" y="670.8" width="2.8" height="1.2" fill="#d8d8d8"/>
<line x1="963.5" y1="655.2" x2="963.5" y2="674.7" stroke="#1c1c2c" stroke-width="1"/>
<rect x="973.3" y="656.0" width="7" height="17.7" rx="1" fill="#666" stroke="#828282" stroke-width="0.9"/>
<rect x="975.9" y="658.2" width="1.8" height="1.4" fill="#e6e6e6"/>
<rect x="975.6" y="660.4" width="2.4" height="6.2" rx="0.8" fill="#fff"/>
<rect x="975.4" y="668.1" width="2.8" height="1.2" fill="#d8d8d8"/>
<rect x="975.4" y="670.8" width="2.8" height="1.2" fill="#d8d8d8"/>
<line x1="972.3" y1="655.2" x2="972.3" y2="674.7" stroke="#1c1c2c" stroke-width="1"/>
<rect x="982.2" y="656.0" width="7" height="17.7" rx="1" fill="#666" stroke="#828282" stroke-width="0.9"/>
<rect x="984.8" y="658.2" width="1.8" height="1.4" fill="#e6e6e6"/>
<rect x="984.5" y="660.4" width="2.4" height="6.2" rx="0.8" fill="#fff"/>
<rect x="984.3" y="668.1" width="2.8" height="1.2" fill="#d8d8d8"/>
<rect x="984.3" y="670.8" width="2.8" height="1.2" fill="#d8d8d8"/>
<line x1="981.2" y1="655.2" x2="981.2" y2="674.7" stroke="#1c1c2c" stroke-width="1"/>
<rect x="549.6" y="696.3" width="7" height="17.4" rx="1" fill="#666" stroke="#828282" stroke-width="0.9"/>
<rect x="551.7" y="698.2" width="2.8" height="1.2" fill="#d8d8d8"/>
<rect x="551.7" y="700.7" width="2.8" height="1.2" fill="#d8d8d8"/>
<rect x="551.9" y="703.2" width="2.4" height="6.1" rx="0.8" fill="#fff"/>
<rect x="552.2" y="710.5" width="1.8" height="1.4" fill="#e6e6e6"/>
<rect x="558.4" y="696.3" width="7" height="17.4" rx="1" fill="#666" stroke="#828282" stroke-width="0.9"/>
<rect x="560.5" y="698.2" width="2.8" height="1.2" fill="#d8d8d8"/>
<rect x="560.5" y="700.7" width="2.8" height="1.2" fill="#d8d8d8"/>
<rect x="560.7" y="703.2" width="2.4" height="6.1" rx="0.8" fill="#fff"/>
<rect x="561.0" y="710.5" width="1.8" height="1.4" fill="#e6e6e6"/>
<line x1="557.4" y1="695.5" x2="557.4" y2="714.7" stroke="#1c1c2c" stroke-width="1"/>
<rect x="567.3" y="696.3" width="7" height="17.4" rx="1" fill="#666" stroke="#828282" stroke-width="0.9"/>
<rect x="569.4" y="698.2" width="2.8" height="1.2" fill="#d8d8d8"/>
<rect x="569.4" y="700.7" width="2.8" height="1.2" fill="#d8d8d8"/>
<rect x="569.6" y="703.2" width="2.4" height="6.1" rx="0.8" fill="#fff"/>
<rect x="569.9" y="710.5" width="1.8" height="1.4" fill="#e6e6e6"/>
<line x1="566.3" y1="695.5" x2="566.3" y2="714.7" stroke="#1c1c2c" stroke-width="1"/>
<rect x="576.1" y="696.3" width="7" height="17.4" rx="1" fill="#666" stroke="#828282" stroke-width="0.9"/>
<rect x="578.2" y="698.2" width="2.8" height="1.2" fill="#d8d8d8"/>
<rect x="578.2" y="700.7" width="2.8" height="1.2" fill="#d8d8d8"/>
<rect x="578.4" y="703.2" width="2.4" height="6.1" rx="0.8" fill="#fff"/>
<rect x="578.7" y="710.5" width="1.8" height="1.4" fill="#e6e6e6"/>
<line x1="575.1" y1="695.5" x2="575.1" y2="714.7" stroke="#1c1c2c" stroke-width="1"/>
<rect x="584.9" y="696.3" width="7" height="17.4" rx="1" fill="#666" stroke="#828282" stroke-width="0.9"/>
<rect x="587.0" y="698.2" width="2.8" height="1.2" fill="#d8d8d8"/>
<rect x="587.0" y="700.7" width="2.8" height="1.2" fill="#d8d8d8"/>
<rect x="587.2" y="703.2" width="2.4" height="6.1" rx="0.8" fill="#fff"/>
<rect x="587.5" y="710.5" width="1.8" height="1.4" fill="#e6e6e6"/>
<line x1="583.9" y1="695.5" x2="583.9" y2="714.7" stroke="#1c1c2c" stroke-width="1"/>
<rect x="593.7" y="696.3" width="7" height="17.4" rx="1" fill="#666" stroke="#828282" stroke-width="0.9"/>
<rect x="595.8" y="698.2" width="2.8" height="1.2" fill="#d8d8d8"/>
<rect x="595.8" y="700.7" width="2.8" height="1.2" fill="#d8d8d8"/>
<rect x="596.0" y="703.2" width="2.4" height="6.1" rx="0.8" fill="#fff"/>
<rect x="596.3" y="710.5" width="1.8" height="1.4" fill="#e6e6e6"/>
<line x1="592.7" y1="695.5" x2="592.7" y2="714.7" stroke="#1c1c2c" stroke-width="1"/>
<rect x="602.6" y="696.3" width="7" height="17.4" rx="1" fill="#666" stroke="#828282" stroke-width="0.9"/>
<rect x="604.7" y="698.2" width="2.8" height="1.2" fill="#d8d8d8"/>
<rect x="604.7" y="700.7" width="2.8" height="1.2" fill="#d8d8d8"/>
<rect x="604.9" y="703.2" width="2.4" height="6.1" rx="0.8" fill="#fff"/>
<rect x="605.2" y="710.5" width="1.8" height="1.4" fill="#e6e6e6"/>
<line x1="601.6" y1="695.5" x2="601.6" y2="714.7" stroke="#1c1c2c" stroke-width="1"/>
<rect x="611.4" y="696.3" width="7" height="17.4" rx="1" fill="#666" stroke="#828282" stroke-width="0.9"/>
<rect x="613.5" y="698.2" width="2.8" height="1.2" fill="#d8d8d8"/>
<rect x="613.5" y="700.7" width="2.8" height="1.2" fill="#d8d8d8"/>
<rect x="613.7" y="703.2" width="2.4" height="6.1" rx="0.8" fill="#fff"/>
<rect x="614.0" y="710.5" width="1.8" height="1.4" fill="#e6e6e6"/>
<line x1="610.4" y1="695.5" x2="610.4" y2="714.7" stroke="#1c1c2c" stroke-width="1"/>
<rect x="620.2" y="696.3" width="7" height="17.4" rx="1" fill="#666" stroke="#828282" stroke-width="0.9"/>
<rect x="622.3" y="698.2" width="2.8" height="1.2" fill="#d8d8d8"/>
<rect x="622.3" y="700.7" width="2.8" height="1.2" fill="#d8d8d8"/>
<rect x="622.5" y="703.2" width="2.4" height="6.1" rx="0.8" fill="#fff"/>
<rect x="622.8" y="710.5" width="1.8" height="1.4" fill="#e6e6e6"/>
<line x1="619.2" y1="695.5" x2="619.2" y2="714.7" stroke="#1c1c2c" stroke-width="1"/>
<rect x="629.1" y="696.3" width="7" height="17.4" rx="1" fill="#666" stroke="#828282" stroke-width="0.9"/>
<rect x="631.2" y="698.2" width="2.8" height="1.2" fill="#d8d8d8"/>
<rect x="631.2" y="700.7" width="2.8" height="1.2" fill="#d8d8d8"/>
<rect x="631.4" y="703.2" width="2.4" height="6.1" rx="0.8" fill="#fff"/>
<rect x="631.7" y="710.5" width="1.8" height="1.4" fill="#e6e6e6"/>
<line x1="628.1" y1="695.5" x2="628.1" y2="714.7" stroke="#1c1c2c" stroke-width="1"/>
<rect x="637.9" y="696.3" width="7" height="17.4" rx="1" fill="#666" stroke="#828282" stroke-width="0.9"/>
<rect x="640.0" y="698.2" width="2.8" height="1.2" fill="#d8d8d8"/>
<rect x="640.0" y="700.7" width="2.8" height="1.2" fill="#d8d8d8"/>
<rect x="640.2" y="703.2" width="2.4" height="6.1" rx="0.8" fill="#fff"/>
<rect x="640.5" y="710.5" width="1.8" height="1.4" fill="#e6e6e6"/>
<line x1="636.9" y1="695.5" x2="636.9" y2="714.7" stroke="#1c1c2c" stroke-width="1"/>
<rect x="646.7" y="696.3" width="7" height="17.4" rx="1" fill="#666" stroke="#828282" stroke-width="0.9"/>
<rect x="648.8" y="698.2" width="2.8" height="1.2" fill="#d8d8d8"/>
<rect x="648.8" y="700.7" width="2.8" height="1.2" fill="#d8d8d8"/>
<rect x="649.0" y="703.2" width="2.4" height="6.1" rx="0.8" fill="#fff"/>
<rect x="649.3" y="710.5" width="1.8" height="1.4" fill="#e6e6e6"/>
<line x1="645.7" y1="695.5" x2="645.7" y2="714.7" stroke="#1c1c2c" stroke-width="1"/>
<rect x="655.5" y="696.3" width="7" height="17.4" rx="1" fill="#666" stroke="#828282" stroke-width="0.9"/>
<rect x="657.6" y="698.2" width="2.8" height="1.2" fill="#d8d8d8"/>
<rect x="657.6" y="700.7" width="2.8" height="1.2" fill="#d8d8d8"/>
<rect x="657.8" y="703.2" width="2.4" height="6.1" rx="0.8" fill="#fff"/>
<rect x="658.1" y="710.5" width="1.8" height="1.4" fill="#e6e6e6"/>
<line x1="654.5" y1="695.5" x2="654.5" y2="714.7" stroke="#1c1c2c" stroke-width="1"/>
<rect x="664.4" y="696.3" width="7" height="17.4" rx="1" fill="#666" stroke="#828282" stroke-width="0.9"/>
<rect x="666.5" y="698.2" width="2.8" height="1.2" fill="#d8d8d8"/>
<rect x="666.5" y="700.7" width="2.8" height="1.2" fill="#d8d8d8"/>
<rect x="666.7" y="703.2" width="2.4" height="6.1" rx="0.8" fill="#fff"/>
<rect x="667.0" y="710.5" width="1.8" height="1.4" fill="#e6e6e6"/>
<line x1="663.4" y1="695.5" x2="663.4" y2="714.7" stroke="#1c1c2c" stroke-width="1"/>
<rect x="673.2" y="696.3" width="7" height="17.4" rx="1" fill="#666" stroke="#828282" stroke-width="0.9"/>
<rect x="675.3" y="698.2" width="2.8" height="1.2" fill="#d8d8d8"/>
<rect x="675.3" y="700.7" width="2.8" height="1.2" fill="#d8d8d8"/>
<rect x="675.5" y="703.2" width="2.4" height="6.1" rx="0.8" fill="#fff"/>
<rect x="675.8" y="710.5" width="1.8" height="1.4" fill="#e6e6e6"/>
<line x1="672.2" y1="695.5" x2="672.2" y2="714.7" stroke="#1c1c2c" stroke-width="1"/>
<rect x="682.0" y="696.3" width="7" height="17.4" rx="1" fill="#666" stroke="#828282" stroke-width="0.9"/>
<rect x="684.1" y="698.2" width="2.8" height="1.2" fill="#d8d8d8"/>
<rect x="684.1" y="700.7" width="2.8" height="1.2" fill="#d8d8d8"/>
<rect x="684.3" y="703.2" width="2.4" height="6.1" rx="0.8" fill="#fff"/>
<rect x="684.6" y="710.5" width="1.8" height="1.4" fill="#e6e6e6"/>
<line x1="681.0" y1="695.5" x2="681.0" y2="714.7" stroke="#1c1c2c" stroke-width="1"/>
<rect x="690.8" y="696.3" width="7" height="17.4" rx="1" fill="#666" stroke="#828282" stroke-width="0.9"/>
<rect x="692.9" y="698.2" width="2.8" height="1.2" fill="#d8d8d8"/>
<rect x="692.9" y="700.7" width="2.8" height="1.2" fill="#d8d8d8"/>
<rect x="693.1" y="703.2" width="2.4" height="6.1" rx="0.8" fill="#fff"/>
<rect x="693.4" y="710.5" width="1.8" height="1.4" fill="#e6e6e6"/>
<line x1="689.8" y1="695.5" x2="689.8" y2="714.7" stroke="#1c1c2c" stroke-width="1"/>
<rect x="699.7" y="696.3" width="7" height="17.4" rx="1" fill="#666" stroke="#828282" stroke-width="0.9"/>
<rect x="701.8" y="698.2" width="2.8" height="1.2" fill="#d8d8d8"/>
<rect x="701.8" y="700.7" width="2.8" height="1.2" fill="#d8d8d8"/>
<rect x="702.0" y="703.2" width="2.4" height="6.1" rx="0.8" fill="#fff"/>
<rect x="702.3" y="710.5" width="1.8" height="1.4" fill="#e6e6e6"/>
<line x1="698.7" y1="695.5" x2="698.7" y2="714.7" stroke="#1c1c2c" stroke-width="1"/>
<rect x="708.5" y="696.3" width="7" height="17.4" rx="1" fill="#666" stroke="#828282" stroke-width="0.9"/>
<rect x="710.6" y="698.2" width="2.8" height="1.2" fill="#d8d8d8"/>
<rect x="710.6" y="700.7" width="2.8" height="1.2" fill="#d8d8d8"/>
<rect x="710.8" y="703.2" width="2.4" height="6.1" rx="0.8" fill="#fff"/>
<rect x="711.1" y="710.5" width="1.8" height="1.4" fill="#e6e6e6"/>
<line x1="707.5" y1="695.5" x2="707.5" y2="714.7" stroke="#1c1c2c" stroke-width="1"/>
<rect x="717.3" y="696.3" width="7" height="17.4" rx="1" fill="#666" stroke="#828282" stroke-width="0.9"/>
<rect x="719.4" y="698.2" width="2.8" height="1.2" fill="#d8d8d8"/>
<rect x="719.4" y="700.7" width="2.8" height="1.2" fill="#d8d8d8"/>
<rect x="719.6" y="703.2" width="2.4" height="6.1" rx="0.8" fill="#fff"/>
<rect x="719.9" y="710.5" width="1.8" height="1.4" fill="#e6e6e6"/>
<line x1="716.3" y1="695.5" x2="716.3" y2="714.7" stroke="#1c1c2c" stroke-width="1"/>
<rect x="726.2" y="696.3" width="7" height="17.4" rx="1" fill="#666" stroke="#828282" stroke-width="0.9"/>
<rect x="728.3" y="698.2" width="2.8" height="1.2" fill="#d8d8d8"/>
<rect x="728.3" y="700.7" width="2.8" height="1.2" fill="#d8d8d8"/>
<rect x="728.5" y="703.2" width="2.4" height="6.1" rx="0.8" fill="#fff"/>
<rect x="728.8" y="710.5" width="1.8" height="1.4" fill="#e6e6e6"/>
<line x1="725.2" y1="695.5" x2="725.2" y2="714.7" stroke="#1c1c2c" stroke-width="1"/>
<rect x="735.0" y="696.3" width="7" height="17.4" rx="1" fill="#666" stroke="#828282" stroke-width="0.9"/>
<rect x="737.1" y="698.2" width="2.8" height="1.2" fill="#d8d8d8"/>
<rect x="737.1" y="700.7" width="2.8" height="1.2" fill="#d8d8d8"/>
<rect x="737.3" y="703.2" width="2.4" height="6.1" rx="0.8" fill="#fff"/>
<rect x="737.6" y="710.5" width="1.8" height="1.4" fill="#e6e6e6"/>
<line x1="734.0" y1="695.5" x2="734.0" y2="714.7" stroke="#1c1c2c" stroke-width="1"/>
<rect x="743.8" y="696.3" width="7" height="17.4" rx="1" fill="#666" stroke="#828282" stroke-width="0.9"/>
<rect x="745.9" y="698.2" width="2.8" height="1.2" fill="#d8d8d8"/>
<rect x="745.9" y="700.7" width="2.8" height="1.2" fill="#d8d8d8"/>
<rect x="746.1" y="703.2" width="2.4" height="6.1" rx="0.8" fill="#fff"/>
<rect x="746.4" y="710.5" width="1.8" height="1.4" fill="#e6e6e6"/>
<line x1="742.8" y1="695.5" x2="742.8" y2="714.7" stroke="#1c1c2c" stroke-width="1"/>
<rect x="752.6" y="696.3" width="7" height="17.4" rx="1" fill="#666" stroke="#828282" stroke-width="0.9"/>
<rect x="754.7" y="698.2" width="2.8" height="1.2" fill="#d8d8d8"/>
<rect x="754.7" y="700.7" width="2.8" height="1.2" fill="#d8d8d8"/>
<rect x="754.9" y="703.2" width="2.4" height="6.1" rx="0.8" fill="#fff"/>
<rect x="755.2" y="710.5" width="1.8" height="1.4" fill="#e6e6e6"/>
<line x1="751.6" y1="695.5" x2="751.6" y2="714.7" stroke="#1c1c2c" stroke-width="1"/>
<rect x="761.5" y="696.3" width="7" height="17.4" rx="1" fill="#666" stroke="#828282" stroke-width="0.9"/>
<rect x="763.6" y="698.2" width="2.8" height="1.2" fill="#d8d8d8"/>
<rect x="763.6" y="700.7" width="2.8" height="1.2" fill="#d8d8d8"/>
<rect x="763.8" y="703.2" width="2.4" height="6.1" rx="0.8" fill="#fff"/>
<rect x="764.1" y="710.5" width="1.8" height="1.4" fill="#e6e6e6"/>
<line x1="760.5" y1="695.5" x2="760.5" y2="714.7" stroke="#1c1c2c" stroke-width="1"/>
<rect x="770.3" y="696.3" width="7" height="17.4" rx="1" fill="#666" stroke="#828282" stroke-width="0.9"/>
<rect x="772.4" y="698.2" width="2.8" height="1.2" fill="#d8d8d8"/>
<rect x="772.4" y="700.7" width="2.8" height="1.2" fill="#d8d8d8"/>
<rect x="772.6" y="703.2" width="2.4" height="6.1" rx="0.8" fill="#fff"/>
<rect x="772.9" y="710.5" width="1.8" height="1.4" fill="#e6e6e6"/>
<line x1="769.3" y1="695.5" x2="769.3" y2="714.7" stroke="#1c1c2c" stroke-width="1"/>
<rect x="779.1" y="696.3" width="7" height="17.4" rx="1" fill="#666" stroke="#828282" stroke-width="0.9"/>
<rect x="781.2" y="698.2" width="2.8" height="1.2" fill="#d8d8d8"/>
<rect x="781.2" y="700.7" width="2.8" height="1.2" fill="#d8d8d8"/>
<rect x="781.4" y="703.2" width="2.4" height="6.1" rx="0.8" fill="#fff"/>
<rect x="781.7" y="710.5" width="1.8" height="1.4" fill="#e6e6e6"/>
<line x1="778.1" y1="695.5" x2="778.1" y2="714.7" stroke="#1c1c2c" stroke-width="1"/>
<rect x="788.0" y="696.3" width="7" height="17.4" rx="1" fill="#666" stroke="#828282" stroke-width="0.9"/>
<rect x="790.1" y="698.2" width="2.8" height="1.2" fill="#d8d8d8"/>
<rect x="790.1" y="700.7" width="2.8" height="1.2" fill="#d8d8d8"/>
<rect x="790.3" y="703.2" width="2.4" height="6.1" rx="0.8" fill="#fff"/>
<rect x="790.6" y="710.5" width="1.8" height="1.4" fill="#e6e6e6"/>
<line x1="787.0" y1="695.5" x2="787.0" y2="714.7" stroke="#1c1c2c" stroke-width="1"/>
<rect x="796.8" y="696.3" width="7" height="17.4" rx="1" fill="#666" stroke="#828282" stroke-width="0.9"/>
<rect x="798.9" y="698.2" width="2.8" height="1.2" fill="#d8d8d8"/>
<rect x="798.9" y="700.7" width="2.8" height="1.2" fill="#d8d8d8"/>
<rect x="799.1" y="703.2" width="2.4" height="6.1" rx="0.8" fill="#fff"/>
<rect x="799.4" y="710.5" width="1.8" height="1.4" fill="#e6e6e6"/>
<line x1="795.8" y1="695.5" x2="795.8" y2="714.7" stroke="#1c1c2c" stroke-width="1"/>
<rect x="805.6" y="696.3" width="7" height="17.4" rx="1" fill="#666" stroke="#828282" stroke-width="0.9"/>
<rect x="807.7" y="698.2" width="2.8" height="1.2" fill="#d8d8d8"/>
<rect x="807.7" y="700.7" width="2.8" height="1.2" fill="#d8d8d8"/>
<rect x="807.9" y="703.2" width="2.4" height="6.1" rx="0.8" fill="#fff"/>
<rect x="808.2" y="710.5" width="1.8" height="1.4" fill="#e6e6e6"/>
<line x1="804.6" y1="695.5" x2="804.6" y2="714.7" stroke="#1c1c2c" stroke-width="1"/>
<rect x="814.4" y="696.3" width="7" height="17.4" rx="1" fill="#666" stroke="#828282" stroke-width="0.9"/>
<rect x="816.5" y="698.2" width="2.8" height="1.2" fill="#d8d8d8"/>
<rect x="816.5" y="700.7" width="2.8" height="1.2" fill="#d8d8d8"/>
<rect x="816.7" y="703.2" width="2.4" height="6.1" rx="0.8" fill="#fff"/>
<rect x="817.0" y="710.5" width="1.8" height="1.4" fill="#e6e6e6"/>
<line x1="813.4" y1="695.5" x2="813.4" y2="714.7" stroke="#1c1c2c" stroke-width="1"/>
<rect x="823.3" y="696.3" width="7" height="17.4" rx="1" fill="#666" stroke="#828282" stroke-width="0.9"/>
<rect x="825.4" y="698.2" width="2.8" height="1.2" fill="#d8d8d8"/>
<rect x="825.4" y="700.7" width="2.8" height="1.2" fill="#d8d8d8"/>
<rect x="825.6" y="703.2" width="2.4" height="6.1" rx="0.8" fill="#fff"/>
<rect x="825.9" y="710.5" width="1.8" height="1.4" fill="#e6e6e6"/>
<line x1="822.3" y1="695.5" x2="822.3" y2="714.7" stroke="#1c1c2c" stroke-width="1"/>
<rect x="832.1" y="696.3" width="7" height="17.4" rx="1" fill="#666" stroke="#828282" stroke-width="0.9"/>
<rect x="834.2" y="698.2" width="2.8" height="1.2" fill="#d8d8d8"/>
<rect x="834.2" y="700.7" width="2.8" height="1.2" fill="#d8d8d8"/>
<rect x="834.4" y="703.2" width="2.4" height="6.1" rx="0.8" fill="#fff"/>
<rect x="834.7" y="710.5" width="1.8" height="1.4" fill="#e6e6e6"/>
<line x1="831.1" y1="695.5" x2="831.1" y2="714.7" stroke="#1c1c2c" stroke-width="1"/>
<rect x="840.9" y="696.3" width="7" height="17.4" rx="1" fill="#666" stroke="#828282" stroke-width="0.9"/>
<rect x="843.0" y="698.2" width="2.8" height="1.2" fill="#d8d8d8"/>
<rect x="843.0" y="700.7" width="2.8" height="1.2" fill="#d8d8d8"/>
<rect x="843.2" y="703.2" width="2.4" height="6.1" rx="0.8" fill="#fff"/>
<rect x="843.5" y="710.5" width="1.8" height="1.4" fill="#e6e6e6"/>
<line x1="839.9" y1="695.5" x2="839.9" y2="714.7" stroke="#1c1c2c" stroke-width="1"/>
<rect x="849.8" y="696.3" width="7" height="17.4" rx="1" fill="#666" stroke="#828282" stroke-width="0.9"/>
<rect x="851.9" y="698.2" width="2.8" height="1.2" fill="#d8d8d8"/>
<rect x="851.9" y="700.7" width="2.8" height="1.2" fill="#d8d8d8"/>
<rect x="852.1" y="703.2" width="2.4" height="6.1" rx="0.8" fill="#fff"/>
<rect x="852.4" y="710.5" width="1.8" height="1.4" fill="#e6e6e6"/>
<line x1="848.8" y1="695.5" x2="848.8" y2="714.7" stroke="#1c1c2c" stroke-width="1"/>
<rect x="858.6" y="696.3" width="7" height="17.4" rx="1" fill="#666" stroke="#828282" stroke-width="0.9"/>
<rect x="860.7" y="698.2" width="2.8" height="1.2" fill="#d8d8d8"/>
<rect x="860.7" y="700.7" width="2.8" height="1.2" fill="#d8d8d8"/>
<rect x="860.9" y="703.2" width="2.4" height="6.1" rx="0.8" fill="#fff"/>
<rect x="861.2" y="710.5" width="1.8" height="1.4" fill="#e6e6e6"/>
<line x1="857.6" y1="695.5" x2="857.6" y2="714.7" stroke="#1c1c2c" stroke-width="1"/>
<rect x="867.4" y="696.3" width="7" height="17.4" rx="1" fill="#666" stroke="#828282" stroke-width="0.9"/>
<rect x="869.5" y="698.2" width="2.8" height="1.2" fill="#d8d8d8"/>
<rect x="869.5" y="700.7" width="2.8" height="1.2" fill="#d8d8d8"/>
<rect x="869.7" y="703.2" width="2.4" height="6.1" rx="0.8" fill="#fff"/>
<rect x="870.0" y="710.5" width="1.8" height="1.4" fill="#e6e6e6"/>
<line x1="866.4" y1="695.5" x2="866.4" y2="714.7" stroke="#1c1c2c" stroke-width="1"/>
<rect x="876.2" y="696.3" width="7" height="17.4" rx="1" fill="#666" stroke="#828282" stroke-width="0.9"/>
<rect x="878.3" y="698.2" width="2.8" height="1.2" fill="#d8d8d8"/>
<rect x="878.3" y="700.7" width="2.8" height="1.2" fill="#d8d8d8"/>
<rect x="878.5" y="703.2" width="2.4" height="6.1" rx="0.8" fill="#fff"/>
<rect x="878.8" y="710.5" width="1.8" height="1.4" fill="#e6e6e6"/>
<line x1="875.2" y1="695.5" x2="875.2" y2="714.7" stroke="#1c1c2c" stroke-width="1"/>
<rect x="885.1" y="696.3" width="7" height="17.4" rx="1" fill="#666" stroke="#828282" stroke-width="0.9"/>
<rect x="887.2" y="698.2" width="2.8" height="1.2" fill="#d8d8d8"/>
<rect x="887.2" y="700.7" width="2.8" height="1.2" fill="#d8d8d8"/>
<rect x="887.4" y="703.2" width="2.4" height="6.1" rx="0.8" fill="#fff"/>
<rect x="887.7" y="710.5" width="1.8" height="1.4" fill="#e6e6e6"/>
<line x1="884.1" y1="695.5" x2="884.1" y2="714.7" stroke="#1c1c2c" stroke-width="1"/>
<rect x="893.9" y="696.3" width="7" height="17.4" rx="1" fill="#666" stroke="#828282" stroke-width="0.9"/>
<rect x="896.0" y="698.2" width="2.8" height="1.2" fill="#d8d8d8"/>
<rect x="896.0" y="700.7" width="2.8" height="1.2" fill="#d8d8d8"/>
<rect x="896.2" y="703.2" width="2.4" height="6.1" rx="0.8" fill="#fff"/>
<rect x="896.5" y="710.5" width="1.8" height="1.4" fill="#e6e6e6"/>
<line x1="892.9" y1="695.5" x2="892.9" y2="714.7" stroke="#1c1c2c" stroke-width="1"/>
<rect x="902.7" y="696.3" width="7" height="17.4" rx="1" fill="#666" stroke="#828282" stroke-width="0.9"/>
<rect x="904.8" y="698.2" width="2.8" height="1.2" fill="#d8d8d8"/>
<rect x="904.8" y="700.7" width="2.8" height="1.2" fill="#d8d8d8"/>
<rect x="905.0" y="703.2" width="2.4" height="6.1" rx="0.8" fill="#fff"/>
<rect x="905.3" y="710.5" width="1.8" height="1.4" fill="#e6e6e6"/>
<line x1="901.7" y1="695.5" x2="901.7" y2="714.7" stroke="#1c1c2c" stroke-width="1"/>
<rect x="911.5" y="696.3" width="7" height="17.4" rx="1" fill="#666" stroke="#828282" stroke-width="0.9"/>
<rect x="913.6" y="698.2" width="2.8" height="1.2" fill="#d8d8d8"/>
<rect x="913.6" y="700.7" width="2.8" height="1.2" fill="#d8d8d8"/>
<rect x="913.8" y="703.2" width="2.4" height="6.1" rx="0.8" fill="#fff"/>
<rect x="914.1" y="710.5" width="1.8" height="1.4" fill="#e6e6e6"/>
<line x1="910.5" y1="695.5" x2="910.5" y2="714.7" stroke="#1c1c2c" stroke-width="1"/>
<rect x="920.4" y="696.3" width="7" height="17.4" rx="1" fill="#666" stroke="#828282" stroke-width="0.9"/>
<rect x="922.5" y="698.2" width="2.8" height="1.2" fill="#d8d8d8"/>
<rect x="922.5" y="700.7" width="2.8" height="1.2" fill="#d8d8d8"/>
<rect x="922.7" y="703.2" width="2.4" height="6.1" rx="0.8" fill="#fff"/>
<rect x="923.0" y="710.5" width="1.8" height="1.4" fill="#e6e6e6"/>
<line x1="919.4" y1="695.5" x2="919.4" y2="714.7" stroke="#1c1c2c" stroke-width="1"/>
<rect x="929.2" y="696.3" width="7" height="17.4" rx="1" fill="#666" stroke="#828282" stroke-width="0.9"/>
<rect x="931.3" y="698.2" width="2.8" height="1.2" fill="#d8d8d8"/>
<rect x="931.3" y="700.7" width="2.8" height="1.2" fill="#d8d8d8"/>
<rect x="931.5" y="703.2" width="2.4" height="6.1" rx="0.8" fill="#fff"/>
<rect x="931.8" y="710.5" width="1.8" height="1.4" fill="#e6e6e6"/>
<line x1="928.2" y1="695.5" x2="928.2" y2="714.7" stroke="#1c1c2c" stroke-width="1"/>
<rect x="938.0" y="696.3" width="7" height="17.4" rx="1" fill="#666" stroke="#828282" stroke-width="0.9"/>
<rect x="940.1" y="698.2" width="2.8" height="1.2" fill="#d8d8d8"/>
<rect x="940.1" y="700.7" width="2.8" height="1.2" fill="#d8d8d8"/>
<rect x="940.3" y="703.2" width="2.4" height="6.1" rx="0.8" fill="#fff"/>
<rect x="940.6" y="710.5" width="1.8" height="1.4" fill="#e6e6e6"/>
<line x1="937.0" y1="695.5" x2="937.0" y2="714.7" stroke="#1c1c2c" stroke-width="1"/>
<rect x="946.9" y="696.3" width="7" height="17.4" rx="1" fill="#666" stroke="#828282" stroke-width="0.9"/>
<rect x="949.0" y="698.2" width="2.8" height="1.2" fill="#d8d8d8"/>
<rect x="949.0" y="700.7" width="2.8" height="1.2" fill="#d8d8d8"/>
<rect x="949.2" y="703.2" width="2.4" height="6.1" rx="0.8" fill="#fff"/>
<rect x="949.5" y="710.5" width="1.8" height="1.4" fill="#e6e6e6"/>
<line x1="945.9" y1="695.5" x2="945.9" y2="714.7" stroke="#1c1c2c" stroke-width="1"/>
<rect x="955.7" y="696.3" width="7" height="17.4" rx="1" fill="#666" stroke="#828282" stroke-width="0.9"/>
<rect x="957.8" y="698.2" width="2.8" height="1.2" fill="#d8d8d8"/>
<rect x="957.8" y="700.7" width="2.8" height="1.2" fill="#d8d8d8"/>
<rect x="958.0" y="703.2" width="2.4" height="6.1" rx="0.8" fill="#fff"/>
<rect x="958.3" y="710.5" width="1.8" height="1.4" fill="#e6e6e6"/>
<line x1="954.7" y1="695.5" x2="954.7" y2="714.7" stroke="#1c1c2c" stroke-width="1"/>
<rect x="964.5" y="696.3" width="7" height="17.4" rx="1" fill="#666" stroke="#828282" stroke-width="0.9"/>
<rect x="966.6" y="698.2" width="2.8" height="1.2" fill="#d8d8d8"/>
<rect x="966.6" y="700.7" width="2.8" height="1.2" fill="#d8d8d8"/>
<rect x="966.8" y="703.2" width="2.4" height="6.1" rx="0.8" fill="#fff"/>
<rect x="967.1" y="710.5" width="1.8" height="1.4" fill="#e6e6e6"/>
<line x1="963.5" y1="695.5" x2="963.5" y2="714.7" stroke="#1c1c2c" stroke-width="1"/>
<rect x="973.3" y="696.3" width="7" height="17.4" rx="1" fill="#666" stroke="#828282" stroke-width="0.9"/>
<rect x="975.4" y="698.2" width="2.8" height="1.2" fill="#d8d8d8"/>
<rect x="975.4" y="700.7" width="2.8" height="1.2" fill="#d8d8d8"/>
<rect x="975.6" y="703.2" width="2.4" height="6.1" rx="0.8" fill="#fff"/>
<rect x="975.9" y="710.5" width="1.8" height="1.4" fill="#e6e6e6"/>
<line x1="972.3" y1="695.5" x2="972.3" y2="714.7" stroke="#1c1c2c" stroke-width="1"/>
<rect x="982.2" y="696.3" width="7" height="17.4" rx="1" fill="#666" stroke="#828282" stroke-width="0.9"/>
<rect x="984.3" y="698.2" width="2.8" height="1.2" fill="#d8d8d8"/>
<rect x="984.3" y="700.7" width="2.8" height="1.2" fill="#d8d8d8"/>
<rect x="984.5" y="703.2" width="2.4" height="6.1" rx="0.8" fill="#fff"/>
<rect x="984.8" y="710.5" width="1.8" height="1.4" fill="#e6e6e6"/>
<line x1="981.2" y1="695.5" x2="981.2" y2="714.7" stroke="#1c1c2c" stroke-width="1"/>
<rect x="549.6" y="715.5" width="7" height="18.0" rx="1" fill="#666" stroke="#828282" stroke-width="0.9"/>
<rect x="552.2" y="717.7" width="1.8" height="1.4" fill="#e6e6e6"/>
<rect x="551.9" y="719.9" width="2.4" height="6.3" rx="0.8" fill="#fff"/>
<rect x="551.7" y="727.8" width="2.8" height="1.2" fill="#d8d8d8"/>
<rect x="551.7" y="730.5" width="2.8" height="1.2" fill="#d8d8d8"/>
<rect x="558.4" y="715.5" width="7" height="18.0" rx="1" fill="#666" stroke="#828282" stroke-width="0.9"/>
<rect x="561.0" y="717.7" width="1.8" height="1.4" fill="#e6e6e6"/>
<rect x="560.7" y="719.9" width="2.4" height="6.3" rx="0.8" fill="#fff"/>
<rect x="560.5" y="727.8" width="2.8" height="1.2" fill="#d8d8d8"/>
<rect x="560.5" y="730.5" width="2.8" height="1.2" fill="#d8d8d8"/>
<line x1="557.4" y1="714.7" x2="557.4" y2="734.5" stroke="#1c1c2c" stroke-width="1"/>
<rect x="567.3" y="715.5" width="7" height="18.0" rx="1" fill="#666" stroke="#828282" stroke-width="0.9"/>
<rect x="569.9" y="717.7" width="1.8" height="1.4" fill="#e6e6e6"/>
<rect x="569.6" y="719.9" width="2.4" height="6.3" rx="0.8" fill="#fff"/>
<rect x="569.4" y="727.8" width="2.8" height="1.2" fill="#d8d8d8"/>
<rect x="569.4" y="730.5" width="2.8" height="1.2" fill="#d8d8d8"/>
<line x1="566.3" y1="714.7" x2="566.3" y2="734.5" stroke="#1c1c2c" stroke-width="1"/>
<rect x="576.1" y="715.5" width="7" height="18.0" rx="1" fill="#666" stroke="#828282" stroke-width="0.9"/>
<rect x="578.7" y="717.7" width="1.8" height="1.4" fill="#e6e6e6"/>
<rect x="578.4" y="719.9" width="2.4" height="6.3" rx="0.8" fill="#fff"/>
<rect x="578.2" y="727.8" width="2.8" height="1.2" fill="#d8d8d8"/>
<rect x="578.2" y="730.5" width="2.8" height="1.2" fill="#d8d8d8"/>
<line x1="575.1" y1="714.7" x2="575.1" y2="734.5" stroke="#1c1c2c" stroke-width="1"/>
<rect x="584.9" y="715.5" width="7" height="18.0" rx="1" fill="#666" stroke="#828282" stroke-width="0.9"/>
<rect x="587.5" y="717.7" width="1.8" height="1.4" fill="#e6e6e6"/>
<rect x="587.2" y="719.9" width="2.4" height="6.3" rx="0.8" fill="#fff"/>
<rect x="587.0" y="727.8" width="2.8" height="1.2" fill="#d8d8d8"/>
<rect x="587.0" y="730.5" width="2.8" height="1.2" fill="#d8d8d8"/>
<line x1="583.9" y1="714.7" x2="583.9" y2="734.5" stroke="#1c1c2c" stroke-width="1"/>
<rect x="593.7" y="715.5" width="7" height="18.0" rx="1" fill="#666" stroke="#828282" stroke-width="0.9"/>
<rect x="596.3" y="717.7" width="1.8" height="1.4" fill="#e6e6e6"/>
<rect x="596.0" y="719.9" width="2.4" height="6.3" rx="0.8" fill="#fff"/>
<rect x="595.8" y="727.8" width="2.8" height="1.2" fill="#d8d8d8"/>
<rect x="595.8" y="730.5" width="2.8" height="1.2" fill="#d8d8d8"/>
<line x1="592.7" y1="714.7" x2="592.7" y2="734.5" stroke="#1c1c2c" stroke-width="1"/>
<rect x="602.6" y="715.5" width="7" height="18.0" rx="1" fill="#666" stroke="#828282" stroke-width="0.9"/>
<rect x="605.2" y="717.7" width="1.8" height="1.4" fill="#e6e6e6"/>
<rect x="604.9" y="719.9" width="2.4" height="6.3" rx="0.8" fill="#fff"/>
<rect x="604.7" y="727.8" width="2.8" height="1.2" fill="#d8d8d8"/>
<rect x="604.7" y="730.5" width="2.8" height="1.2" fill="#d8d8d8"/>
<line x1="601.6" y1="714.7" x2="601.6" y2="734.5" stroke="#1c1c2c" stroke-width="1"/>
<rect x="611.4" y="715.5" width="7" height="18.0" rx="1" fill="#666" stroke="#828282" stroke-width="0.9"/>
<rect x="614.0" y="717.7" width="1.8" height="1.4" fill="#e6e6e6"/>
<rect x="613.7" y="719.9" width="2.4" height="6.3" rx="0.8" fill="#fff"/>
<rect x="613.5" y="727.8" width="2.8" height="1.2" fill="#d8d8d8"/>
<rect x="613.5" y="730.5" width="2.8" height="1.2" fill="#d8d8d8"/>
<line x1="610.4" y1="714.7" x2="610.4" y2="734.5" stroke="#1c1c2c" stroke-width="1"/>
<rect x="620.2" y="715.5" width="7" height="18.0" rx="1" fill="#666" stroke="#828282" stroke-width="0.9"/>
<rect x="622.8" y="717.7" width="1.8" height="1.4" fill="#e6e6e6"/>
<rect x="622.5" y="719.9" width="2.4" height="6.3" rx="0.8" fill="#fff"/>
<rect x="622.3" y="727.8" width="2.8" height="1.2" fill="#d8d8d8"/>
<rect x="622.3" y="730.5" width="2.8" height="1.2" fill="#d8d8d8"/>
<line x1="619.2" y1="714.7" x2="619.2" y2="734.5" stroke="#1c1c2c" stroke-width="1"/>
<rect x="629.1" y="715.5" width="7" height="18.0" rx="1" fill="#666" stroke="#828282" stroke-width="0.9"/>
<rect x="631.7" y="717.7" width="1.8" height="1.4" fill="#e6e6e6"/>
<rect x="631.4" y="719.9" width="2.4" height="6.3" rx="0.8" fill="#fff"/>
<rect x="631.2" y="727.8" width="2.8" height="1.2" fill="#d8d8d8"/>
<rect x="631.2" y="730.5" width="2.8" height="1.2" fill="#d8d8d8"/>
<line x1="628.1" y1="714.7" x2="628.1" y2="734.5" stroke="#1c1c2c" stroke-width="1"/>
<rect x="637.9" y="715.5" width="7" height="18.0" rx="1" fill="#666" stroke="#828282" stroke-width="0.9"/>
<rect x="640.5" y="717.7" width="1.8" height="1.4" fill="#e6e6e6"/>
<rect x="640.2" y="719.9" width="2.4" height="6.3" rx="0.8" fill="#fff"/>
<rect x="640.0" y="727.8" width="2.8" height="1.2" fill="#d8d8d8"/>
<rect x="640.0" y="730.5" width="2.8" height="1.2" fill="#d8d8d8"/>
<line x1="636.9" y1="714.7" x2="636.9" y2="734.5" stroke="#1c1c2c" stroke-width="1"/>
<rect x="646.7" y="715.5" width="7" height="18.0" rx="1" fill="#666" stroke="#828282" stroke-width="0.9"/>
<rect x="649.3" y="717.7" width="1.8" height="1.4" fill="#e6e6e6"/>
<rect x="649.0" y="719.9" width="2.4" height="6.3" rx="0.8" fill="#fff"/>
<rect x="648.8" y="727.8" width="2.8" height="1.2" fill="#d8d8d8"/>
<rect x="648.8" y="730.5" width="2.8" height="1.2" fill="#d8d8d8"/>
<line x1="645.7" y1="714.7" x2="645.7" y2="734.5" stroke="#1c1c2c" stroke-width="1"/>
<rect x="655.5" y="715.5" width="7" height="18.0" rx="1" fill="#666" stroke="#828282" stroke-width="0.9"/>
<rect x="658.1" y="717.7" width="1.8" height="1.4" fill="#e6e6e6"/>
<rect x="657.8" y="719.9" width="2.4" height="6.3" rx="0.8" fill="#fff"/>
<rect x="657.6" y="727.8" width="2.8" height="1.2" fill="#d8d8d8"/>
<rect x="657.6" y="730.5" width="2.8" height="1.2" fill="#d8d8d8"/>
<line x1="654.5" y1="714.7" x2="654.5" y2="734.5" stroke="#1c1c2c" stroke-width="1"/>
<rect x="664.4" y="715.5" width="7" height="18.0" rx="1" fill="#666" stroke="#828282" stroke-width="0.9"/>
<rect x="667.0" y="717.7" width="1.8" height="1.4" fill="#e6e6e6"/>
<rect x="666.7" y="719.9" width="2.4" height="6.3" rx="0.8" fill="#fff"/>
<rect x="666.5" y="727.8" width="2.8" height="1.2" fill="#d8d8d8"/>
<rect x="666.5" y="730.5" width="2.8" height="1.2" fill="#d8d8d8"/>
<line x1="663.4" y1="714.7" x2="663.4" y2="734.5" stroke="#1c1c2c" stroke-width="1"/>
<rect x="673.2" y="715.5" width="7" height="18.0" rx="1" fill="#666" stroke="#828282" stroke-width="0.9"/>
<rect x="675.8" y="717.7" width="1.8" height="1.4" fill="#e6e6e6"/>
<rect x="675.5" y="719.9" width="2.4" height="6.3" rx="0.8" fill="#fff"/>
<rect x="675.3" y="727.8" width="2.8" height="1.2" fill="#d8d8d8"/>
<rect x="675.3" y="730.5" width="2.8" height="1.2" fill="#d8d8d8"/>
<line x1="672.2" y1="714.7" x2="672.2" y2="734.5" stroke="#1c1c2c" stroke-width="1"/>
<rect x="682.0" y="715.5" width="7" height="18.0" rx="1" fill="#666" stroke="#828282" stroke-width="0.9"/>
<rect x="684.6" y="717.7" width="1.8" height="1.4" fill="#e6e6e6"/>
<rect x="684.3" y="719.9" width="2.4" height="6.3" rx="0.8" fill="#fff"/>
<rect x="684.1" y="727.8" width="2.8" height="1.2" fill="#d8d8d8"/>
<rect x="684.1" y="730.5" width="2.8" height="1.2" fill="#d8d8d8"/>
<line x1="681.0" y1="714.7" x2="681.0" y2="734.5" stroke="#1c1c2c" stroke-width="1"/>
<rect x="690.8" y="715.5" width="7" height="18.0" rx="1" fill="#666" stroke="#828282" stroke-width="0.9"/>
<rect x="693.4" y="717.7" width="1.8" height="1.4" fill="#e6e6e6"/>
<rect x="693.1" y="719.9" width="2.4" height="6.3" rx="0.8" fill="#fff"/>
<rect x="692.9" y="727.8" width="2.8" height="1.2" fill="#d8d8d8"/>
<rect x="692.9" y="730.5" width="2.8" height="1.2" fill="#d8d8d8"/>
<line x1="689.8" y1="714.7" x2="689.8" y2="734.5" stroke="#1c1c2c" stroke-width="1"/>
<rect x="699.7" y="715.5" width="7" height="18.0" rx="1" fill="#666" stroke="#828282" stroke-width="0.9"/>
<rect x="702.3" y="717.7" width="1.8" height="1.4" fill="#e6e6e6"/>
<rect x="702.0" y="719.9" width="2.4" height="6.3" rx="0.8" fill="#fff"/>
<rect x="701.8" y="727.8" width="2.8" height="1.2" fill="#d8d8d8"/>
<rect x="701.8" y="730.5" width="2.8" height="1.2" fill="#d8d8d8"/>
<line x1="698.7" y1="714.7" x2="698.7" y2="734.5" stroke="#1c1c2c" stroke-width="1"/>
<rect x="708.5" y="715.5" width="7" height="18.0" rx="1" fill="#666" stroke="#828282" stroke-width="0.9"/>
<rect x="711.1" y="717.7" width="1.8" height="1.4" fill="#e6e6e6"/>
<rect x="710.8" y="719.9" width="2.4" height="6.3" rx="0.8" fill="#fff"/>
<rect x="710.6" y="727.8" width="2.8" height="1.2" fill="#d8d8d8"/>
<rect x="710.6" y="730.5" width="2.8" height="1.2" fill="#d8d8d8"/>
<line x1="707.5" y1="714.7" x2="707.5" y2="734.5" stroke="#1c1c2c" stroke-width="1"/>
<rect x="717.3" y="715.5" width="7" height="18.0" rx="1" fill="#666" stroke="#828282" stroke-width="0.9"/>
<rect x="719.9" y="717.7" width="1.8" height="1.4" fill="#e6e6e6"/>
<rect x="719.6" y="719.9" width="2.4" height="6.3" rx="0.8" fill="#fff"/>
<rect x="719.4" y="727.8" width="2.8" height="1.2" fill="#d8d8d8"/>
<rect x="719.4" y="730.5" width="2.8" height="1.2" fill="#d8d8d8"/>
<line x1="716.3" y1="714.7" x2="716.3" y2="734.5" stroke="#1c1c2c" stroke-width="1"/>
<rect x="726.2" y="715.5" width="7" height="18.0" rx="1" fill="#666" stroke="#828282" stroke-width="0.9"/>
<rect x="728.8" y="717.7" width="1.8" height="1.4" fill="#e6e6e6"/>
<rect x="728.5" y="719.9" width="2.4" height="6.3" rx="0.8" fill="#fff"/>
<rect x="728.3" y="727.8" width="2.8" height="1.2" fill="#d8d8d8"/>
<rect x="728.3" y="730.5" width="2.8" height="1.2" fill="#d8d8d8"/>
<line x1="725.2" y1="714.7" x2="725.2" y2="734.5" stroke="#1c1c2c" stroke-width="1"/>
<rect x="735.0" y="715.5" width="7" height="18.0" rx="1" fill="#666" stroke="#828282" stroke-width="0.9"/>
<rect x="737.6" y="717.7" width="1.8" height="1.4" fill="#e6e6e6"/>
<rect x="737.3" y="719.9" width="2.4" height="6.3" rx="0.8" fill="#fff"/>
<rect x="737.1" y="727.8" width="2.8" height="1.2" fill="#d8d8d8"/>
<rect x="737.1" y="730.5" width="2.8" height="1.2" fill="#d8d8d8"/>
<line x1="734.0" y1="714.7" x2="734.0" y2="734.5" stroke="#1c1c2c" stroke-width="1"/>
<rect x="743.8" y="715.5" width="7" height="18.0" rx="1" fill="#666" stroke="#828282" stroke-width="0.9"/>
<rect x="746.4" y="717.7" width="1.8" height="1.4" fill="#e6e6e6"/>
<rect x="746.1" y="719.9" width="2.4" height="6.3" rx="0.8" fill="#fff"/>
<rect x="745.9" y="727.8" width="2.8" height="1.2" fill="#d8d8d8"/>
<rect x="745.9" y="730.5" width="2.8" height="1.2" fill="#d8d8d8"/>
<line x1="742.8" y1="714.7" x2="742.8" y2="734.5" stroke="#1c1c2c" stroke-width="1"/>
<rect x="752.6" y="715.5" width="7" height="18.0" rx="1" fill="#666" stroke="#828282" stroke-width="0.9"/>
<rect x="755.2" y="717.7" width="1.8" height="1.4" fill="#e6e6e6"/>
<rect x="754.9" y="719.9" width="2.4" height="6.3" rx="0.8" fill="#fff"/>
<rect x="754.7" y="727.8" width="2.8" height="1.2" fill="#d8d8d8"/>
<rect x="754.7" y="730.5" width="2.8" height="1.2" fill="#d8d8d8"/>
<line x1="751.6" y1="714.7" x2="751.6" y2="734.5" stroke="#1c1c2c" stroke-width="1"/>
<rect x="761.5" y="715.5" width="7" height="18.0" rx="1" fill="#666" stroke="#828282" stroke-width="0.9"/>
<rect x="764.1" y="717.7" width="1.8" height="1.4" fill="#e6e6e6"/>
<rect x="763.8" y="719.9" width="2.4" height="6.3" rx="0.8" fill="#fff"/>
<rect x="763.6" y="727.8" width="2.8" height="1.2" fill="#d8d8d8"/>
<rect x="763.6" y="730.5" width="2.8" height="1.2" fill="#d8d8d8"/>
<line x1="760.5" y1="714.7" x2="760.5" y2="734.5" stroke="#1c1c2c" stroke-width="1"/>
<rect x="770.3" y="715.5" width="7" height="18.0" rx="1" fill="#666" stroke="#828282" stroke-width="0.9"/>
<rect x="772.9" y="717.7" width="1.8" height="1.4" fill="#e6e6e6"/>
<rect x="772.6" y="719.9" width="2.4" height="6.3" rx="0.8" fill="#fff"/>
<rect x="772.4" y="727.8" width="2.8" height="1.2" fill="#d8d8d8"/>
<rect x="772.4" y="730.5" width="2.8" height="1.2" fill="#d8d8d8"/>
<line x1="769.3" y1="714.7" x2="769.3" y2="734.5" stroke="#1c1c2c" stroke-width="1"/>
<rect x="779.1" y="715.5" width="7" height="18.0" rx="1" fill="#666" stroke="#828282" stroke-width="0.9"/>
<rect x="781.7" y="717.7" width="1.8" height="1.4" fill="#e6e6e6"/>
<rect x="781.4" y="719.9" width="2.4" height="6.3" rx="0.8" fill="#fff"/>
<rect x="781.2" y="727.8" width="2.8" height="1.2" fill="#d8d8d8"/>
<rect x="781.2" y="730.5" width="2.8" height="1.2" fill="#d8d8d8"/>
<line x1="778.1" y1="714.7" x2="778.1" y2="734.5" stroke="#1c1c2c" stroke-width="1"/>
<rect x="788.0" y="715.5" width="7" height="18.0" rx="1" fill="#666" stroke="#828282" stroke-width="0.9"/>
<rect x="790.6" y="717.7" width="1.8" height="1.4" fill="#e6e6e6"/>
<rect x="790.3" y="719.9" width="2.4" height="6.3" rx="0.8" fill="#fff"/>
<rect x="790.1" y="727.8" width="2.8" height="1.2" fill="#d8d8d8"/>
<rect x="790.1" y="730.5" width="2.8" height="1.2" fill="#d8d8d8"/>
<line x1="787.0" y1="714.7" x2="787.0" y2="734.5" stroke="#1c1c2c" stroke-width="1"/>
<rect x="796.8" y="715.5" width="7" height="18.0" rx="1" fill="#666" stroke="#828282" stroke-width="0.9"/>
<rect x="799.4" y="717.7" width="1.8" height="1.4" fill="#e6e6e6"/>
<rect x="799.1" y="719.9" width="2.4" height="6.3" rx="0.8" fill="#fff"/>
<rect x="798.9" y="727.8" width="2.8" height="1.2" fill="#d8d8d8"/>
<rect x="798.9" y="730.5" width="2.8" height="1.2" fill="#d8d8d8"/>
<line x1="795.8" y1="714.7" x2="795.8" y2="734.5" stroke="#1c1c2c" stroke-width="1"/>
<rect x="805.6" y="715.5" width="7" height="18.0" rx="1" fill="#666" stroke="#828282" stroke-width="0.9"/>
<rect x="808.2" y="717.7" width="1.8" height="1.4" fill="#e6e6e6"/>
<rect x="807.9" y="719.9" width="2.4" height="6.3" rx="0.8" fill="#fff"/>
<rect x="807.7" y="727.8" width="2.8" height="1.2" fill="#d8d8d8"/>
<rect x="807.7" y="730.5" width="2.8" height="1.2" fill="#d8d8d8"/>
<line x1="804.6" y1="714.7" x2="804.6" y2="734.5" stroke="#1c1c2c" stroke-width="1"/>
<rect x="814.4" y="715.5" width="7" height="18.0" rx="1" fill="#666" stroke="#828282" stroke-width="0.9"/>
<rect x="817.0" y="717.7" width="1.8" height="1.4" fill="#e6e6e6"/>
<rect x="816.7" y="719.9" width="2.4" height="6.3" rx="0.8" fill="#fff"/>
<rect x="816.5" y="727.8" width="2.8" height="1.2" fill="#d8d8d8"/>
<rect x="816.5" y="730.5" width="2.8" height="1.2" fill="#d8d8d8"/>
<line x1="813.4" y1="714.7" x2="813.4" y2="734.5" stroke="#1c1c2c" stroke-width="1"/>
<rect x="823.3" y="715.5" width="7" height="18.0" rx="1" fill="#666" stroke="#828282" stroke-width="0.9"/>
<rect x="825.9" y="717.7" width="1.8" height="1.4" fill="#e6e6e6"/>
<rect x="825.6" y="719.9" width="2.4" height="6.3" rx="0.8" fill="#fff"/>
<rect x="825.4" y="727.8" width="2.8" height="1.2" fill="#d8d8d8"/>
<rect x="825.4" y="730.5" width="2.8" height="1.2" fill="#d8d8d8"/>
<line x1="822.3" y1="714.7" x2="822.3" y2="734.5" stroke="#1c1c2c" stroke-width="1"/>
<rect x="832.1" y="715.5" width="7" height="18.0" rx="1" fill="#666" stroke="#828282" stroke-width="0.9"/>
<rect x="834.7" y="717.7" width="1.8" height="1.4" fill="#e6e6e6"/>
<rect x="834.4" y="719.9" width="2.4" height="6.3" rx="0.8" fill="#fff"/>
<rect x="834.2" y="727.8" width="2.8" height="1.2" fill="#d8d8d8"/>
<rect x="834.2" y="730.5" width="2.8" height="1.2" fill="#d8d8d8"/>
<line x1="831.1" y1="714.7" x2="831.1" y2="734.5" stroke="#1c1c2c" stroke-width="1"/>
<rect x="840.9" y="715.5" width="7" height="18.0" rx="1" fill="#666" stroke="#828282" stroke-width="0.9"/>
<rect x="843.5" y="717.7" width="1.8" height="1.4" fill="#e6e6e6"/>
<rect x="843.2" y="719.9" width="2.4" height="6.3" rx="0.8" fill="#fff"/>
<rect x="843.0" y="727.8" width="2.8" height="1.2" fill="#d8d8d8"/>
<rect x="843.0" y="730.5" width="2.8" height="1.2" fill="#d8d8d8"/>
<line x1="839.9" y1="714.7" x2="839.9" y2="734.5" stroke="#1c1c2c" stroke-width="1"/>
<rect x="849.8" y="715.5" width="7" height="18.0" rx="1" fill="#666" stroke="#828282" stroke-width="0.9"/>
<rect x="852.4" y="717.7" width="1.8" height="1.4" fill="#e6e6e6"/>
<rect x="852.1" y="719.9" width="2.4" height="6.3" rx="0.8" fill="#fff"/>
<rect x="851.9" y="727.8" width="2.8" height="1.2" fill="#d8d8d8"/>
<rect x="851.9" y="730.5" width="2.8" height="1.2" fill="#d8d8d8"/>
<line x1="848.8" y1="714.7" x2="848.8" y2="734.5" stroke="#1c1c2c" stroke-width="1"/>
<rect x="858.6" y="715.5" width="7" height="18.0" rx="1" fill="#666" stroke="#828282" stroke-width="0.9"/>
<rect x="861.2" y="717.7" width="1.8" height="1.4" fill="#e6e6e6"/>
<rect x="860.9" y="719.9" width="2.4" height="6.3" rx="0.8" fill="#fff"/>
<rect x="860.7" y="727.8" width="2.8" height="1.2" fill="#d8d8d8"/>
<rect x="860.7" y="730.5" width="2.8" height="1.2" fill="#d8d8d8"/>
<line x1="857.6" y1="714.7" x2="857.6" y2="734.5" stroke="#1c1c2c" stroke-width="1"/>
<rect x="867.4" y="715.5" width="7" height="18.0" rx="1" fill="#666" stroke="#828282" stroke-width="0.9"/>
<rect x="870.0" y="717.7" width="1.8" height="1.4" fill="#e6e6e6"/>
<rect x="869.7" y="719.9" width="2.4" height="6.3" rx="0.8" fill="#fff"/>
<rect x="869.5" y="727.8" width="2.8" height="1.2" fill="#d8d8d8"/>
<rect x="869.5" y="730.5" width="2.8" height="1.2" fill="#d8d8d8"/>
<line x1="866.4" y1="714.7" x2="866.4" y2="734.5" stroke="#1c1c2c" stroke-width="1"/>
<rect x="876.2" y="715.5" width="7" height="18.0" rx="1" fill="#666" stroke="#828282" stroke-width="0.9"/>
<rect x="878.8" y="717.7" width="1.8" height="1.4" fill="#e6e6e6"/>
<rect x="878.5" y="719.9" width="2.4" height="6.3" rx="0.8" fill="#fff"/>
<rect x="878.3" y="727.8" width="2.8" height="1.2" fill="#d8d8d8"/>
<rect x="878.3" y="730.5" width="2.8" height="1.2" fill="#d8d8d8"/>
<line x1="875.2" y1="714.7" x2="875.2" y2="734.5" stroke="#1c1c2c" stroke-width="1"/>
<rect x="885.1" y="715.5" width="7" height="18.0" rx="1" fill="#666" stroke="#828282" stroke-width="0.9"/>
<rect x="887.7" y="717.7" width="1.8" height="1.4" fill="#e6e6e6"/>
<rect x="887.4" y="719.9" width="2.4" height="6.3" rx="0.8" fill="#fff"/>
<rect x="887.2" y="727.8" width="2.8" height="1.2" fill="#d8d8d8"/>
<rect x="887.2" y="730.5" width="2.8" height="1.2" fill="#d8d8d8"/>
<line x1="884.1" y1="714.7" x2="884.1" y2="734.5" stroke="#1c1c2c" stroke-width="1"/>
<rect x="893.9" y="715.5" width="7" height="18.0" rx="1" fill="#666" stroke="#828282" stroke-width="0.9"/>
<rect x="896.5" y="717.7" width="1.8" height="1.4" fill="#e6e6e6"/>
<rect x="896.2" y="719.9" width="2.4" height="6.3" rx="0.8" fill="#fff"/>
<rect x="896.0" y="727.8" width="2.8" height="1.2" fill="#d8d8d8"/>
<rect x="896.0" y="730.5" width="2.8" height="1.2" fill="#d8d8d8"/>
<line x1="892.9" y1="714.7" x2="892.9" y2="734.5" stroke="#1c1c2c" stroke-width="1"/>
<rect x="902.7" y="715.5" width="7" height="18.0" rx="1" fill="#666" stroke="#828282" stroke-width="0.9"/>
<rect x="905.3" y="717.7" width="1.8" height="1.4" fill="#e6e6e6"/>
<rect x="905.0" y="719.9" width="2.4" height="6.3" rx="0.8" fill="#fff"/>
<rect x="904.8" y="727.8" width="2.8" height="1.2" fill="#d8d8d8"/>
<rect x="904.8" y="730.5" width="2.8" height="1.2" fill="#d8d8d8"/>
<line x1="901.7" y1="714.7" x2="901.7" y2="734.5" stroke="#1c1c2c" stroke-width="1"/>
<rect x="911.5" y="715.5" width="7" height="18.0" rx="1" fill="#666" stroke="#828282" stroke-width="0.9"/>
<rect x="914.1" y="717.7" width="1.8" height="1.4" fill="#e6e6e6"/>
<rect x="913.8" y="719.9" width="2.4" height="6.3" rx="0.8" fill="#fff"/>
<rect x="913.6" y="727.8" width="2.8" height="1.2" fill="#d8d8d8"/>
<rect x="913.6" y="730.5" width="2.8" height="1.2" fill="#d8d8d8"/>
<line x1="910.5" y1="714.7" x2="910.5" y2="734.5" stroke="#1c1c2c" stroke-width="1"/>
<rect x="920.4" y="715.5" width="7" height="18.0" rx="1" fill="#666" stroke="#828282" stroke-width="0.9"/>
<rect x="923.0" y="717.7" width="1.8" height="1.4" fill="#e6e6e6"/>
<rect x="922.7" y="719.9" width="2.4" height="6.3" rx="0.8" fill="#fff"/>
<rect x="922.5" y="727.8" width="2.8" height="1.2" fill="#d8d8d8"/>
<rect x="922.5" y="730.5" width="2.8" height="1.2" fill="#d8d8d8"/>
<line x1="919.4" y1="714.7" x2="919.4" y2="734.5" stroke="#1c1c2c" stroke-width="1"/>
<rect x="929.2" y="715.5" width="7" height="18.0" rx="1" fill="#666" stroke="#828282" stroke-width="0.9"/>
<rect x="931.8" y="717.7" width="1.8" height="1.4" fill="#e6e6e6"/>
<rect x="931.5" y="719.9" width="2.4" height="6.3" rx="0.8" fill="#fff"/>
<rect x="931.3" y="727.8" width="2.8" height="1.2" fill="#d8d8d8"/>
<rect x="931.3" y="730.5" width="2.8" height="1.2" fill="#d8d8d8"/>
<line x1="928.2" y1="714.7" x2="928.2" y2="734.5" stroke="#1c1c2c" stroke-width="1"/>
<rect x="938.0" y="715.5" width="7" height="18.0" rx="1" fill="#666" stroke="#828282" stroke-width="0.9"/>
<rect x="940.6" y="717.7" width="1.8" height="1.4" fill="#e6e6e6"/>
<rect x="940.3" y="719.9" width="2.4" height="6.3" rx="0.8" fill="#fff"/>
<rect x="940.1" y="727.8" width="2.8" height="1.2" fill="#d8d8d8"/>
<rect x="940.1" y="730.5" width="2.8" height="1.2" fill="#d8d8d8"/>
<line x1="937.0" y1="714.7" x2="937.0" y2="734.5" stroke="#1c1c2c" stroke-width="1"/>
<rect x="946.9" y="715.5" width="7" height="18.0" rx="1" fill="#666" stroke="#828282" stroke-width="0.9"/>
<rect x="949.5" y="717.7" width="1.8" height="1.4" fill="#e6e6e6"/>
<rect x="949.2" y="719.9" width="2.4" height="6.3" rx="0.8" fill="#fff"/>
<rect x="949.0" y="727.8" width="2.8" height="1.2" fill="#d8d8d8"/>
<rect x="949.0" y="730.5" width="2.8" height="1.2" fill="#d8d8d8"/>
<line x1="945.9" y1="714.7" x2="945.9" y2="734.5" stroke="#1c1c2c" stroke-width="1"/>
<rect x="955.7" y="715.5" width="7" height="18.0" rx="1" fill="#666" stroke="#828282" stroke-width="0.9"/>
<rect x="958.3" y="717.7" width="1.8" height="1.4" fill="#e6e6e6"/>
<rect x="958.0" y="719.9" width="2.4" height="6.3" rx="0.8" fill="#fff"/>
<rect x="957.8" y="727.8" width="2.8" height="1.2" fill="#d8d8d8"/>
<rect x="957.8" y="730.5" width="2.8" height="1.2" fill="#d8d8d8"/>
<line x1="954.7" y1="714.7" x2="954.7" y2="734.5" stroke="#1c1c2c" stroke-width="1"/>
<rect x="964.5" y="715.5" width="7" height="18.0" rx="1" fill="#666" stroke="#828282" stroke-width="0.9"/>
<rect x="967.1" y="717.7" width="1.8" height="1.4" fill="#e6e6e6"/>
<rect x="966.8" y="719.9" width="2.4" height="6.3" rx="0.8" fill="#fff"/>
<rect x="966.6" y="727.8" width="2.8" height="1.2" fill="#d8d8d8"/>
<rect x="966.6" y="730.5" width="2.8" height="1.2" fill="#d8d8d8"/>
<line x1="963.5" y1="714.7" x2="963.5" y2="734.5" stroke="#1c1c2c" stroke-width="1"/>
<rect x="973.3" y="715.5" width="7" height="18.0" rx="1" fill="#666" stroke="#828282" stroke-width="0.9"/>
<rect x="975.9" y="717.7" width="1.8" height="1.4" fill="#e6e6e6"/>
<rect x="975.6" y="719.9" width="2.4" height="6.3" rx="0.8" fill="#fff"/>
<rect x="975.4" y="727.8" width="2.8" height="1.2" fill="#d8d8d8"/>
<rect x="975.4" y="730.5" width="2.8" height="1.2" fill="#d8d8d8"/>
<line x1="972.3" y1="714.7" x2="972.3" y2="734.5" stroke="#1c1c2c" stroke-width="1"/>
<rect x="982.2" y="715.5" width="7" height="18.0" rx="1" fill="#666" stroke="#828282" stroke-width="0.9"/>
<rect x="984.8" y="717.7" width="1.8" height="1.4" fill="#e6e6e6"/>
<rect x="984.5" y="719.9" width="2.4" height="6.3" rx="0.8" fill="#fff"/>
<rect x="984.3" y="727.8" width="2.8" height="1.2" fill="#d8d8d8"/>
<rect x="984.3" y="730.5" width="2.8" height="1.2" fill="#d8d8d8"/>
<line x1="981.2" y1="714.7" x2="981.2" y2="734.5" stroke="#1c1c2c" stroke-width="1"/>
<rect x="549.6" y="756.0" width="7" height="17.4" rx="1" fill="#666" stroke="#828282" stroke-width="0.9"/>
<rect x="551.7" y="757.9" width="2.8" height="1.2" fill="#d8d8d8"/>
<rect x="551.7" y="760.4" width="2.8" height="1.2" fill="#d8d8d8"/>
<rect x="551.9" y="762.9" width="2.4" height="6.1" rx="0.8" fill="#fff"/>
<rect x="552.2" y="770.2" width="1.8" height="1.4" fill="#e6e6e6"/>
<rect x="558.4" y="756.0" width="7" height="17.4" rx="1" fill="#666" stroke="#828282" stroke-width="0.9"/>
<rect x="560.5" y="757.9" width="2.8" height="1.2" fill="#d8d8d8"/>
<rect x="560.5" y="760.4" width="2.8" height="1.2" fill="#d8d8d8"/>
<rect x="560.7" y="762.9" width="2.4" height="6.1" rx="0.8" fill="#fff"/>
<rect x="561.0" y="770.2" width="1.8" height="1.4" fill="#e6e6e6"/>
<line x1="557.4" y1="755.2" x2="557.4" y2="774.4" stroke="#1c1c2c" stroke-width="1"/>
<rect x="567.3" y="756.0" width="7" height="17.4" rx="1" fill="#666" stroke="#828282" stroke-width="0.9"/>
<rect x="569.4" y="757.9" width="2.8" height="1.2" fill="#d8d8d8"/>
<rect x="569.4" y="760.4" width="2.8" height="1.2" fill="#d8d8d8"/>
<rect x="569.6" y="762.9" width="2.4" height="6.1" rx="0.8" fill="#fff"/>
<rect x="569.9" y="770.2" width="1.8" height="1.4" fill="#e6e6e6"/>
<line x1="566.3" y1="755.2" x2="566.3" y2="774.4" stroke="#1c1c2c" stroke-width="1"/>
<rect x="576.1" y="756.0" width="7" height="17.4" rx="1" fill="#666" stroke="#828282" stroke-width="0.9"/>
<rect x="578.2" y="757.9" width="2.8" height="1.2" fill="#d8d8d8"/>
<rect x="578.2" y="760.4" width="2.8" height="1.2" fill="#d8d8d8"/>
<rect x="578.4" y="762.9" width="2.4" height="6.1" rx="0.8" fill="#fff"/>
<rect x="578.7" y="770.2" width="1.8" height="1.4" fill="#e6e6e6"/>
<line x1="575.1" y1="755.2" x2="575.1" y2="774.4" stroke="#1c1c2c" stroke-width="1"/>
<rect x="584.9" y="756.0" width="7" height="17.4" rx="1" fill="#666" stroke="#828282" stroke-width="0.9"/>
<rect x="587.0" y="757.9" width="2.8" height="1.2" fill="#d8d8d8"/>
<rect x="587.0" y="760.4" width="2.8" height="1.2" fill="#d8d8d8"/>
<rect x="587.2" y="762.9" width="2.4" height="6.1" rx="0.8" fill="#fff"/>
<rect x="587.5" y="770.2" width="1.8" height="1.4" fill="#e6e6e6"/>
<line x1="583.9" y1="755.2" x2="583.9" y2="774.4" stroke="#1c1c2c" stroke-width="1"/>
<rect x="593.7" y="756.0" width="7" height="17.4" rx="1" fill="#666" stroke="#828282" stroke-width="0.9"/>
<rect x="595.8" y="757.9" width="2.8" height="1.2" fill="#d8d8d8"/>
<rect x="595.8" y="760.4" width="2.8" height="1.2" fill="#d8d8d8"/>
<rect x="596.0" y="762.9" width="2.4" height="6.1" rx="0.8" fill="#fff"/>
<rect x="596.3" y="770.2" width="1.8" height="1.4" fill="#e6e6e6"/>
<line x1="592.7" y1="755.2" x2="592.7" y2="774.4" stroke="#1c1c2c" stroke-width="1"/>
<rect x="602.6" y="756.0" width="7" height="17.4" rx="1" fill="#666" stroke="#828282" stroke-width="0.9"/>
<rect x="604.7" y="757.9" width="2.8" height="1.2" fill="#d8d8d8"/>
<rect x="604.7" y="760.4" width="2.8" height="1.2" fill="#d8d8d8"/>
<rect x="604.9" y="762.9" width="2.4" height="6.1" rx="0.8" fill="#fff"/>
<rect x="605.2" y="770.2" width="1.8" height="1.4" fill="#e6e6e6"/>
<line x1="601.6" y1="755.2" x2="601.6" y2="774.4" stroke="#1c1c2c" stroke-width="1"/>
<rect x="611.4" y="756.0" width="7" height="17.4" rx="1" fill="#666" stroke="#828282" stroke-width="0.9"/>
<rect x="613.5" y="757.9" width="2.8" height="1.2" fill="#d8d8d8"/>
<rect x="613.5" y="760.4" width="2.8" height="1.2" fill="#d8d8d8"/>
<rect x="613.7" y="762.9" width="2.4" height="6.1" rx="0.8" fill="#fff"/>
<rect x="614.0" y="770.2" width="1.8" height="1.4" fill="#e6e6e6"/>
<line x1="610.4" y1="755.2" x2="610.4" y2="774.4" stroke="#1c1c2c" stroke-width="1"/>
<rect x="620.2" y="756.0" width="7" height="17.4" rx="1" fill="#666" stroke="#828282" stroke-width="0.9"/>
<rect x="622.3" y="757.9" width="2.8" height="1.2" fill="#d8d8d8"/>
<rect x="622.3" y="760.4" width="2.8" height="1.2" fill="#d8d8d8"/>
<rect x="622.5" y="762.9" width="2.4" height="6.1" rx="0.8" fill="#fff"/>
<rect x="622.8" y="770.2" width="1.8" height="1.4" fill="#e6e6e6"/>
<line x1="619.2" y1="755.2" x2="619.2" y2="774.4" stroke="#1c1c2c" stroke-width="1"/>
<rect x="629.1" y="756.0" width="7" height="17.4" rx="1" fill="#666" stroke="#828282" stroke-width="0.9"/>
<rect x="631.2" y="757.9" width="2.8" height="1.2" fill="#d8d8d8"/>
<rect x="631.2" y="760.4" width="2.8" height="1.2" fill="#d8d8d8"/>
<rect x="631.4" y="762.9" width="2.4" height="6.1" rx="0.8" fill="#fff"/>
<rect x="631.7" y="770.2" width="1.8" height="1.4" fill="#e6e6e6"/>
<line x1="628.1" y1="755.2" x2="628.1" y2="774.4" stroke="#1c1c2c" stroke-width="1"/>
<rect x="637.9" y="756.0" width="7" height="17.4" rx="1" fill="#666" stroke="#828282" stroke-width="0.9"/>
<rect x="640.0" y="757.9" width="2.8" height="1.2" fill="#d8d8d8"/>
<rect x="640.0" y="760.4" width="2.8" height="1.2" fill="#d8d8d8"/>
<rect x="640.2" y="762.9" width="2.4" height="6.1" rx="0.8" fill="#fff"/>
<rect x="640.5" y="770.2" width="1.8" height="1.4" fill="#e6e6e6"/>
<line x1="636.9" y1="755.2" x2="636.9" y2="774.4" stroke="#1c1c2c" stroke-width="1"/>
<rect x="646.7" y="756.0" width="7" height="17.4" rx="1" fill="#666" stroke="#828282" stroke-width="0.9"/>
<rect x="648.8" y="757.9" width="2.8" height="1.2" fill="#d8d8d8"/>
<rect x="648.8" y="760.4" width="2.8" height="1.2" fill="#d8d8d8"/>
<rect x="649.0" y="762.9" width="2.4" height="6.1" rx="0.8" fill="#fff"/>
<rect x="649.3" y="770.2" width="1.8" height="1.4" fill="#e6e6e6"/>
<line x1="645.7" y1="755.2" x2="645.7" y2="774.4" stroke="#1c1c2c" stroke-width="1"/>
<rect x="655.5" y="756.0" width="7" height="17.4" rx="1" fill="#666" stroke="#828282" stroke-width="0.9"/>
<rect x="657.6" y="757.9" width="2.8" height="1.2" fill="#d8d8d8"/>
<rect x="657.6" y="760.4" width="2.8" height="1.2" fill="#d8d8d8"/>
<rect x="657.8" y="762.9" width="2.4" height="6.1" rx="0.8" fill="#fff"/>
<rect x="658.1" y="770.2" width="1.8" height="1.4" fill="#e6e6e6"/>
<line x1="654.5" y1="755.2" x2="654.5" y2="774.4" stroke="#1c1c2c" stroke-width="1"/>
<rect x="664.4" y="756.0" width="7" height="17.4" rx="1" fill="#666" stroke="#828282" stroke-width="0.9"/>
<rect x="666.5" y="757.9" width="2.8" height="1.2" fill="#d8d8d8"/>
<rect x="666.5" y="760.4" width="2.8" height="1.2" fill="#d8d8d8"/>
<rect x="666.7" y="762.9" width="2.4" height="6.1" rx="0.8" fill="#fff"/>
<rect x="667.0" y="770.2" width="1.8" height="1.4" fill="#e6e6e6"/>
<line x1="663.4" y1="755.2" x2="663.4" y2="774.4" stroke="#1c1c2c" stroke-width="1"/>
<rect x="673.2" y="756.0" width="7" height="17.4" rx="1" fill="#666" stroke="#828282" stroke-width="0.9"/>
<rect x="675.3" y="757.9" width="2.8" height="1.2" fill="#d8d8d8"/>
<rect x="675.3" y="760.4" width="2.8" height="1.2" fill="#d8d8d8"/>
<rect x="675.5" y="762.9" width="2.4" height="6.1" rx="0.8" fill="#fff"/>
<rect x="675.8" y="770.2" width="1.8" height="1.4" fill="#e6e6e6"/>
<line x1="672.2" y1="755.2" x2="672.2" y2="774.4" stroke="#1c1c2c" stroke-width="1"/>
<rect x="682.0" y="756.0" width="7" height="17.4" rx="1" fill="#666" stroke="#828282" stroke-width="0.9"/>
<rect x="684.1" y="757.9" width="2.8" height="1.2" fill="#d8d8d8"/>
<rect x="684.1" y="760.4" width="2.8" height="1.2" fill="#d8d8d8"/>
<rect x="684.3" y="762.9" width="2.4" height="6.1" rx="0.8" fill="#fff"/>
<rect x="684.6" y="770.2" width="1.8" height="1.4" fill="#e6e6e6"/>
<line x1="681.0" y1="755.2" x2="681.0" y2="774.4" stroke="#1c1c2c" stroke-width="1"/>
<rect x="690.8" y="756.0" width="7" height="17.4" rx="1" fill="#666" stroke="#828282" stroke-width="0.9"/>
<rect x="692.9" y="757.9" width="2.8" height="1.2" fill="#d8d8d8"/>
<rect x="692.9" y="760.4" width="2.8" height="1.2" fill="#d8d8d8"/>
<rect x="693.1" y="762.9" width="2.4" height="6.1" rx="0.8" fill="#fff"/>
<rect x="693.4" y="770.2" width="1.8" height="1.4" fill="#e6e6e6"/>
<line x1="689.8" y1="755.2" x2="689.8" y2="774.4" stroke="#1c1c2c" stroke-width="1"/>
<rect x="699.7" y="756.0" width="7" height="17.4" rx="1" fill="#666" stroke="#828282" stroke-width="0.9"/>
<rect x="701.8" y="757.9" width="2.8" height="1.2" fill="#d8d8d8"/>
<rect x="701.8" y="760.4" width="2.8" height="1.2" fill="#d8d8d8"/>
<rect x="702.0" y="762.9" width="2.4" height="6.1" rx="0.8" fill="#fff"/>
<rect x="702.3" y="770.2" width="1.8" height="1.4" fill="#e6e6e6"/>
<line x1="698.7" y1="755.2" x2="698.7" y2="774.4" stroke="#1c1c2c" stroke-width="1"/>
<rect x="708.5" y="756.0" width="7" height="17.4" rx="1" fill="#666" stroke="#828282" stroke-width="0.9"/>
<rect x="710.6" y="757.9" width="2.8" height="1.2" fill="#d8d8d8"/>
<rect x="710.6" y="760.4" width="2.8" height="1.2" fill="#d8d8d8"/>
<rect x="710.8" y="762.9" width="2.4" height="6.1" rx="0.8" fill="#fff"/>
<rect x="711.1" y="770.2" width="1.8" height="1.4" fill="#e6e6e6"/>
<line x1="707.5" y1="755.2" x2="707.5" y2="774.4" stroke="#1c1c2c" stroke-width="1"/>
<rect x="717.3" y="756.0" width="7" height="17.4" rx="1" fill="#666" stroke="#828282" stroke-width="0.9"/>
<rect x="719.4" y="757.9" width="2.8" height="1.2" fill="#d8d8d8"/>
<rect x="719.4" y="760.4" width="2.8" height="1.2" fill="#d8d8d8"/>
<rect x="719.6" y="762.9" width="2.4" height="6.1" rx="0.8" fill="#fff"/>
<rect x="719.9" y="770.2" width="1.8" height="1.4" fill="#e6e6e6"/>
<line x1="716.3" y1="755.2" x2="716.3" y2="774.4" stroke="#1c1c2c" stroke-width="1"/>
<rect x="726.2" y="756.0" width="7" height="17.4" rx="1" fill="#666" stroke="#828282" stroke-width="0.9"/>
<rect x="728.3" y="757.9" width="2.8" height="1.2" fill="#d8d8d8"/>
<rect x="728.3" y="760.4" width="2.8" height="1.2" fill="#d8d8d8"/>
<rect x="728.5" y="762.9" width="2.4" height="6.1" rx="0.8" fill="#fff"/>
<rect x="728.8" y="770.2" width="1.8" height="1.4" fill="#e6e6e6"/>
<line x1="725.2" y1="755.2" x2="725.2" y2="774.4" stroke="#1c1c2c" stroke-width="1"/>
<rect x="735.0" y="756.0" width="7" height="17.4" rx="1" fill="#666" stroke="#828282" stroke-width="0.9"/>
<rect x="737.1" y="757.9" width="2.8" height="1.2" fill="#d8d8d8"/>
<rect x="737.1" y="760.4" width="2.8" height="1.2" fill="#d8d8d8"/>
<rect x="737.3" y="762.9" width="2.4" height="6.1" rx="0.8" fill="#fff"/>
<rect x="737.6" y="770.2" width="1.8" height="1.4" fill="#e6e6e6"/>
<line x1="734.0" y1="755.2" x2="734.0" y2="774.4" stroke="#1c1c2c" stroke-width="1"/>
<rect x="743.8" y="756.0" width="7" height="17.4" rx="1" fill="#666" stroke="#828282" stroke-width="0.9"/>
<rect x="745.9" y="757.9" width="2.8" height="1.2" fill="#d8d8d8"/>
<rect x="745.9" y="760.4" width="2.8" height="1.2" fill="#d8d8d8"/>
<rect x="746.1" y="762.9" width="2.4" height="6.1" rx="0.8" fill="#fff"/>
<rect x="746.4" y="770.2" width="1.8" height="1.4" fill="#e6e6e6"/>
<line x1="742.8" y1="755.2" x2="742.8" y2="774.4" stroke="#1c1c2c" stroke-width="1"/>
<rect x="752.6" y="756.0" width="7" height="17.4" rx="1" fill="#666" stroke="#828282" stroke-width="0.9"/>
<rect x="754.7" y="757.9" width="2.8" height="1.2" fill="#d8d8d8"/>
<rect x="754.7" y="760.4" width="2.8" height="1.2" fill="#d8d8d8"/>
<rect x="754.9" y="762.9" width="2.4" height="6.1" rx="0.8" fill="#fff"/>
<rect x="755.2" y="770.2" width="1.8" height="1.4" fill="#e6e6e6"/>
<line x1="751.6" y1="755.2" x2="751.6" y2="774.4" stroke="#1c1c2c" stroke-width="1"/>
<rect x="761.5" y="756.0" width="7" height="17.4" rx="1" fill="#666" stroke="#828282" stroke-width="0.9"/>
<rect x="763.6" y="757.9" width="2.8" height="1.2" fill="#d8d8d8"/>
<rect x="763.6" y="760.4" width="2.8" height="1.2" fill="#d8d8d8"/>
<rect x="763.8" y="762.9" width="2.4" height="6.1" rx="0.8" fill="#fff"/>
<rect x="764.1" y="770.2" width="1.8" height="1.4" fill="#e6e6e6"/>
<line x1="760.5" y1="755.2" x2="760.5" y2="774.4" stroke="#1c1c2c" stroke-width="1"/>
<rect x="770.3" y="756.0" width="7" height="17.4" rx="1" fill="#666" stroke="#828282" stroke-width="0.9"/>
<rect x="772.4" y="757.9" width="2.8" height="1.2" fill="#d8d8d8"/>
<rect x="772.4" y="760.4" width="2.8" height="1.2" fill="#d8d8d8"/>
<rect x="772.6" y="762.9" width="2.4" height="6.1" rx="0.8" fill="#fff"/>
<rect x="772.9" y="770.2" width="1.8" height="1.4" fill="#e6e6e6"/>
<line x1="769.3" y1="755.2" x2="769.3" y2="774.4" stroke="#1c1c2c" stroke-width="1"/>
<rect x="779.1" y="756.0" width="7" height="17.4" rx="1" fill="#666" stroke="#828282" stroke-width="0.9"/>
<rect x="781.2" y="757.9" width="2.8" height="1.2" fill="#d8d8d8"/>
<rect x="781.2" y="760.4" width="2.8" height="1.2" fill="#d8d8d8"/>
<rect x="781.4" y="762.9" width="2.4" height="6.1" rx="0.8" fill="#fff"/>
<rect x="781.7" y="770.2" width="1.8" height="1.4" fill="#e6e6e6"/>
<line x1="778.1" y1="755.2" x2="778.1" y2="774.4" stroke="#1c1c2c" stroke-width="1"/>
<rect x="788.0" y="756.0" width="7" height="17.4" rx="1" fill="#666" stroke="#828282" stroke-width="0.9"/>
<rect x="790.1" y="757.9" width="2.8" height="1.2" fill="#d8d8d8"/>
<rect x="790.1" y="760.4" width="2.8" height="1.2" fill="#d8d8d8"/>
<rect x="790.3" y="762.9" width="2.4" height="6.1" rx="0.8" fill="#fff"/>
<rect x="790.6" y="770.2" width="1.8" height="1.4" fill="#e6e6e6"/>
<line x1="787.0" y1="755.2" x2="787.0" y2="774.4" stroke="#1c1c2c" stroke-width="1"/>
<rect x="796.8" y="756.0" width="7" height="17.4" rx="1" fill="#666" stroke="#828282" stroke-width="0.9"/>
<rect x="798.9" y="757.9" width="2.8" height="1.2" fill="#d8d8d8"/>
<rect x="798.9" y="760.4" width="2.8" height="1.2" fill="#d8d8d8"/>
<rect x="799.1" y="762.9" width="2.4" height="6.1" rx="0.8" fill="#fff"/>
<rect x="799.4" y="770.2" width="1.8" height="1.4" fill="#e6e6e6"/>
<line x1="795.8" y1="755.2" x2="795.8" y2="774.4" stroke="#1c1c2c" stroke-width="1"/>
<rect x="805.6" y="756.0" width="7" height="17.4" rx="1" fill="#666" stroke="#828282" stroke-width="0.9"/>
<rect x="807.7" y="757.9" width="2.8" height="1.2" fill="#d8d8d8"/>
<rect x="807.7" y="760.4" width="2.8" height="1.2" fill="#d8d8d8"/>
<rect x="807.9" y="762.9" width="2.4" height="6.1" rx="0.8" fill="#fff"/>
<rect x="808.2" y="770.2" width="1.8" height="1.4" fill="#e6e6e6"/>
<line x1="804.6" y1="755.2" x2="804.6" y2="774.4" stroke="#1c1c2c" stroke-width="1"/>
<rect x="814.4" y="756.0" width="7" height="17.4" rx="1" fill="#666" stroke="#828282" stroke-width="0.9"/>
<rect x="816.5" y="757.9" width="2.8" height="1.2" fill="#d8d8d8"/>
<rect x="816.5" y="760.4" width="2.8" height="1.2" fill="#d8d8d8"/>
<rect x="816.7" y="762.9" width="2.4" height="6.1" rx="0.8" fill="#fff"/>
<rect x="817.0" y="770.2" width="1.8" height="1.4" fill="#e6e6e6"/>
<line x1="813.4" y1="755.2" x2="813.4" y2="774.4" stroke="#1c1c2c" stroke-width="1"/>
<rect x="823.3" y="756.0" width="7" height="17.4" rx="1" fill="#666" stroke="#828282" stroke-width="0.9"/>
<rect x="825.4" y="757.9" width="2.8" height="1.2" fill="#d8d8d8"/>
<rect x="825.4" y="760.4" width="2.8" height="1.2" fill="#d8d8d8"/>
<rect x="825.6" y="762.9" width="2.4" height="6.1" rx="0.8" fill="#fff"/>
<rect x="825.9" y="770.2" width="1.8" height="1.4" fill="#e6e6e6"/>
<line x1="822.3" y1="755.2" x2="822.3" y2="774.4" stroke="#1c1c2c" stroke-width="1"/>
<rect x="832.1" y="756.0" width="7" height="17.4" rx="1" fill="#666" stroke="#828282" stroke-width="0.9"/>
<rect x="834.2" y="757.9" width="2.8" height="1.2" fill="#d8d8d8"/>
<rect x="834.2" y="760.4" width="2.8" height="1.2" fill="#d8d8d8"/>
<rect x="834.4" y="762.9" width="2.4" height="6.1" rx="0.8" fill="#fff"/>
<rect x="834.7" y="770.2" width="1.8" height="1.4" fill="#e6e6e6"/>
<line x1="831.1" y1="755.2" x2="831.1" y2="774.4" stroke="#1c1c2c" stroke-width="1"/>
<rect x="840.9" y="756.0" width="7" height="17.4" rx="1" fill="#666" stroke="#828282" stroke-width="0.9"/>
<rect x="843.0" y="757.9" width="2.8" height="1.2" fill="#d8d8d8"/>
<rect x="843.0" y="760.4" width="2.8" height="1.2" fill="#d8d8d8"/>
<rect x="843.2" y="762.9" width="2.4" height="6.1" rx="0.8" fill="#fff"/>
<rect x="843.5" y="770.2" width="1.8" height="1.4" fill="#e6e6e6"/>
<line x1="839.9" y1="755.2" x2="839.9" y2="774.4" stroke="#1c1c2c" stroke-width="1"/>
<rect x="849.8" y="756.0" width="7" height="17.4" rx="1" fill="#666" stroke="#828282" stroke-width="0.9"/>
<rect x="851.9" y="757.9" width="2.8" height="1.2" fill="#d8d8d8"/>
<rect x="851.9" y="760.4" width="2.8" height="1.2" fill="#d8d8d8"/>
<rect x="852.1" y="762.9" width="2.4" height="6.1" rx="0.8" fill="#fff"/>
<rect x="852.4" y="770.2" width="1.8" height="1.4" fill="#e6e6e6"/>
<line x1="848.8" y1="755.2" x2="848.8" y2="774.4" stroke="#1c1c2c" stroke-width="1"/>
<rect x="858.6" y="756.0" width="7" height="17.4" rx="1" fill="#666" stroke="#828282" stroke-width="0.9"/>
<rect x="860.7" y="757.9" width="2.8" height="1.2" fill="#d8d8d8"/>
<rect x="860.7" y="760.4" width="2.8" height="1.2" fill="#d8d8d8"/>
<rect x="860.9" y="762.9" width="2.4" height="6.1" rx="0.8" fill="#fff"/>
<rect x="861.2" y="770.2" width="1.8" height="1.4" fill="#e6e6e6"/>
<line x1="857.6" y1="755.2" x2="857.6" y2="774.4" stroke="#1c1c2c" stroke-width="1"/>
<rect x="867.4" y="756.0" width="7" height="17.4" rx="1" fill="#666" stroke="#828282" stroke-width="0.9"/>
<rect x="869.5" y="757.9" width="2.8" height="1.2" fill="#d8d8d8"/>
<rect x="869.5" y="760.4" width="2.8" height="1.2" fill="#d8d8d8"/>
<rect x="869.7" y="762.9" width="2.4" height="6.1" rx="0.8" fill="#fff"/>
<rect x="870.0" y="770.2" width="1.8" height="1.4" fill="#e6e6e6"/>
<line x1="866.4" y1="755.2" x2="866.4" y2="774.4" stroke="#1c1c2c" stroke-width="1"/>
<rect x="876.2" y="756.0" width="7" height="17.4" rx="1" fill="#666" stroke="#828282" stroke-width="0.9"/>
<rect x="878.3" y="757.9" width="2.8" height="1.2" fill="#d8d8d8"/>
<rect x="878.3" y="760.4" width="2.8" height="1.2" fill="#d8d8d8"/>
<rect x="878.5" y="762.9" width="2.4" height="6.1" rx="0.8" fill="#fff"/>
<rect x="878.8" y="770.2" width="1.8" height="1.4" fill="#e6e6e6"/>
<line x1="875.2" y1="755.2" x2="875.2" y2="774.4" stroke="#1c1c2c" stroke-width="1"/>
<rect x="885.1" y="756.0" width="7" height="17.4" rx="1" fill="#666" stroke="#828282" stroke-width="0.9"/>
<rect x="887.2" y="757.9" width="2.8" height="1.2" fill="#d8d8d8"/>
<rect x="887.2" y="760.4" width="2.8" height="1.2" fill="#d8d8d8"/>
<rect x="887.4" y="762.9" width="2.4" height="6.1" rx="0.8" fill="#fff"/>
<rect x="887.7" y="770.2" width="1.8" height="1.4" fill="#e6e6e6"/>
<line x1="884.1" y1="755.2" x2="884.1" y2="774.4" stroke="#1c1c2c" stroke-width="1"/>
<rect x="893.9" y="756.0" width="7" height="17.4" rx="1" fill="#666" stroke="#828282" stroke-width="0.9"/>
<rect x="896.0" y="757.9" width="2.8" height="1.2" fill="#d8d8d8"/>
<rect x="896.0" y="760.4" width="2.8" height="1.2" fill="#d8d8d8"/>
<rect x="896.2" y="762.9" width="2.4" height="6.1" rx="0.8" fill="#fff"/>
<rect x="896.5" y="770.2" width="1.8" height="1.4" fill="#e6e6e6"/>
<line x1="892.9" y1="755.2" x2="892.9" y2="774.4" stroke="#1c1c2c" stroke-width="1"/>
<rect x="902.7" y="756.0" width="7" height="17.4" rx="1" fill="#666" stroke="#828282" stroke-width="0.9"/>
<rect x="904.8" y="757.9" width="2.8" height="1.2" fill="#d8d8d8"/>
<rect x="904.8" y="760.4" width="2.8" height="1.2" fill="#d8d8d8"/>
<rect x="905.0" y="762.9" width="2.4" height="6.1" rx="0.8" fill="#fff"/>
<rect x="905.3" y="770.2" width="1.8" height="1.4" fill="#e6e6e6"/>
<line x1="901.7" y1="755.2" x2="901.7" y2="774.4" stroke="#1c1c2c" stroke-width="1"/>
<rect x="911.5" y="756.0" width="7" height="17.4" rx="1" fill="#666" stroke="#828282" stroke-width="0.9"/>
<rect x="913.6" y="757.9" width="2.8" height="1.2" fill="#d8d8d8"/>
<rect x="913.6" y="760.4" width="2.8" height="1.2" fill="#d8d8d8"/>
<rect x="913.8" y="762.9" width="2.4" height="6.1" rx="0.8" fill="#fff"/>
<rect x="914.1" y="770.2" width="1.8" height="1.4" fill="#e6e6e6"/>
<line x1="910.5" y1="755.2" x2="910.5" y2="774.4" stroke="#1c1c2c" stroke-width="1"/>
<rect x="920.4" y="756.0" width="7" height="17.4" rx="1" fill="#666" stroke="#828282" stroke-width="0.9"/>
<rect x="922.5" y="757.9" width="2.8" height="1.2" fill="#d8d8d8"/>
<rect x="922.5" y="760.4" width="2.8" height="1.2" fill="#d8d8d8"/>
<rect x="922.7" y="762.9" width="2.4" height="6.1" rx="0.8" fill="#fff"/>
<rect x="923.0" y="770.2" width="1.8" height="1.4" fill="#e6e6e6"/>
<line x1="919.4" y1="755.2" x2="919.4" y2="774.4" stroke="#1c1c2c" stroke-width="1"/>
<rect x="929.2" y="756.0" width="7" height="17.4" rx="1" fill="#666" stroke="#828282" stroke-width="0.9"/>
<rect x="931.3" y="757.9" width="2.8" height="1.2" fill="#d8d8d8"/>
<rect x="931.3" y="760.4" width="2.8" height="1.2" fill="#d8d8d8"/>
<rect x="931.5" y="762.9" width="2.4" height="6.1" rx="0.8" fill="#fff"/>
<rect x="931.8" y="770.2" width="1.8" height="1.4" fill="#e6e6e6"/>
<line x1="928.2" y1="755.2" x2="928.2" y2="774.4" stroke="#1c1c2c" stroke-width="1"/>
<rect x="938.0" y="756.0" width="7" height="17.4" rx="1" fill="#666" stroke="#828282" stroke-width="0.9"/>
<rect x="940.1" y="757.9" width="2.8" height="1.2" fill="#d8d8d8"/>
<rect x="940.1" y="760.4" width="2.8" height="1.2" fill="#d8d8d8"/>
<rect x="940.3" y="762.9" width="2.4" height="6.1" rx="0.8" fill="#fff"/>
<rect x="940.6" y="770.2" width="1.8" height="1.4" fill="#e6e6e6"/>
<line x1="937.0" y1="755.2" x2="937.0" y2="774.4" stroke="#1c1c2c" stroke-width="1"/>
<rect x="946.9" y="756.0" width="7" height="17.4" rx="1" fill="#666" stroke="#828282" stroke-width="0.9"/>
<rect x="949.0" y="757.9" width="2.8" height="1.2" fill="#d8d8d8"/>
<rect x="949.0" y="760.4" width="2.8" height="1.2" fill="#d8d8d8"/>
<rect x="949.2" y="762.9" width="2.4" height="6.1" rx="0.8" fill="#fff"/>
<rect x="949.5" y="770.2" width="1.8" height="1.4" fill="#e6e6e6"/>
<line x1="945.9" y1="755.2" x2="945.9" y2="774.4" stroke="#1c1c2c" stroke-width="1"/>
<rect x="955.7" y="756.0" width="7" height="17.4" rx="1" fill="#666" stroke="#828282" stroke-width="0.9"/>
<rect x="957.8" y="757.9" width="2.8" height="1.2" fill="#d8d8d8"/>
<rect x="957.8" y="760.4" width="2.8" height="1.2" fill="#d8d8d8"/>
<rect x="958.0" y="762.9" width="2.4" height="6.1" rx="0.8" fill="#fff"/>
<rect x="958.3" y="770.2" width="1.8" height="1.4" fill="#e6e6e6"/>
<line x1="954.7" y1="755.2" x2="954.7" y2="774.4" stroke="#1c1c2c" stroke-width="1"/>
<rect x="964.5" y="756.0" width="7" height="17.4" rx="1" fill="#666" stroke="#828282" stroke-width="0.9"/>
<rect x="966.6" y="757.9" width="2.8" height="1.2" fill="#d8d8d8"/>
<rect x="966.6" y="760.4" width="2.8" height="1.2" fill="#d8d8d8"/>
<rect x="966.8" y="762.9" width="2.4" height="6.1" rx="0.8" fill="#fff"/>
<rect x="967.1" y="770.2" width="1.8" height="1.4" fill="#e6e6e6"/>
<line x1="963.5" y1="755.2" x2="963.5" y2="774.4" stroke="#1c1c2c" stroke-width="1"/>
<rect x="973.3" y="756.0" width="7" height="17.4" rx="1" fill="#666" stroke="#828282" stroke-width="0.9"/>
<rect x="975.4" y="757.9" width="2.8" height="1.2" fill="#d8d8d8"/>
<rect x="975.4" y="760.4" width="2.8" height="1.2" fill="#d8d8d8"/>
<rect x="975.6" y="762.9" width="2.4" height="6.1" rx="0.8" fill="#fff"/>
<rect x="975.9" y="770.2" width="1.8" height="1.4" fill="#e6e6e6"/>
<line x1="972.3" y1="755.2" x2="972.3" y2="774.4" stroke="#1c1c2c" stroke-width="1"/>
<rect x="982.2" y="756.0" width="7" height="17.4" rx="1" fill="#666" stroke="#828282" stroke-width="0.9"/>
<rect x="984.3" y="757.9" width="2.8" height="1.2" fill="#d8d8d8"/>
<rect x="984.3" y="760.4" width="2.8" height="1.2" fill="#d8d8d8"/>
<rect x="984.5" y="762.9" width="2.4" height="6.1" rx="0.8" fill="#fff"/>
<rect x="984.8" y="770.2" width="1.8" height="1.4" fill="#e6e6e6"/>
<line x1="981.2" y1="755.2" x2="981.2" y2="774.4" stroke="#1c1c2c" stroke-width="1"/>
<line x1="548.6" y1="714.7" x2="990.0" y2="714.7" stroke="#1c1c2c" stroke-width="1.2"/>
<rect x="491.6" y="132" width="12.4" height="20.4" fill="#7d3c3c" stroke="#1a1a1a" stroke-width="1.4"/>
<rect x="492.2" y="158.4" width="13.3" height="19.1" fill="#7d3c3c" stroke="#1a1a1a" stroke-width="1.4"/>
<rect x="385.7" y="192.2" width="20" height="11" fill="#6e6e6e" stroke="#222" stroke-width="1.4"/>
<rect x="411.7" y="192.2" width="20" height="11" fill="#6e6e6e" stroke="#222" stroke-width="1.4"/>
<rect x="437.7" y="192.2" width="20" height="11" fill="#6e6e6e" stroke="#222" stroke-width="1.4"/>
<path d="M512,231 L830,231 A114,119 0 0 1 892,449.9 L905,480.4 L828.5,503.7 L512.6,503 L436.6,480.4 L452.4,449.6 A111,119 0 0 1 512,231 Z" fill="#fff" stroke="#14291f" stroke-width="1.4"/>
<polyline points="436.6,480.4 512.6,503 828.5,503.7 905,480.4" fill="none" stroke="#333" stroke-width="1.6"/>
<rect x="512" y="233" width="143.0" height="13.6" fill="#6a6a6a"/>
<rect x="513.5" y="237" width="2.4" height="2" fill="#f4f4f4"/><rect x="513.5" y="241.5" width="2.4" height="2" fill="#f4f4f4"/>
<rect x="517.7" y="237" width="2.4" height="2" fill="#f4f4f4"/><rect x="517.7" y="241.5" width="2.4" height="2" fill="#f4f4f4"/>
<rect x="521.9" y="237" width="2.4" height="2" fill="#f4f4f4"/><rect x="521.9" y="241.5" width="2.4" height="2" fill="#f4f4f4"/>
<rect x="526.1" y="237" width="2.4" height="2" fill="#f4f4f4"/><rect x="526.1" y="241.5" width="2.4" height="2" fill="#f4f4f4"/>
<rect x="530.3" y="237" width="2.4" height="2" fill="#f4f4f4"/><rect x="530.3" y="241.5" width="2.4" height="2" fill="#f4f4f4"/>
<rect x="534.5" y="237" width="2.4" height="2" fill="#f4f4f4"/><rect x="534.5" y="241.5" width="2.4" height="2" fill="#f4f4f4"/>
<rect x="538.7" y="237" width="2.4" height="2" fill="#f4f4f4"/><rect x="538.7" y="241.5" width="2.4" height="2" fill="#f4f4f4"/>
<rect x="542.9" y="237" width="2.4" height="2" fill="#f4f4f4"/><rect x="542.9" y="241.5" width="2.4" height="2" fill="#f4f4f4"/>
<rect x="547.1" y="237" width="2.4" height="2" fill="#f4f4f4"/><rect x="547.1" y="241.5" width="2.4" height="2" fill="#f4f4f4"/>
<rect x="551.3" y="237" width="2.4" height="2" fill="#f4f4f4"/><rect x="551.3" y="241.5" width="2.4" height="2" fill="#f4f4f4"/>
<rect x="555.5" y="237" width="2.4" height="2" fill="#f4f4f4"/><rect x="555.5" y="241.5" width="2.4" height="2" fill="#f4f4f4"/>
<rect x="559.7" y="237" width="2.4" height="2" fill="#f4f4f4"/><rect x="559.7" y="241.5" width="2.4" height="2" fill="#f4f4f4"/>
<rect x="563.9" y="237" width="2.4" height="2" fill="#f4f4f4"/><rect x="563.9" y="241.5" width="2.4" height="2" fill="#f4f4f4"/>
<rect x="568.1" y="237" width="2.4" height="2" fill="#f4f4f4"/><rect x="568.1" y="241.5" width="2.4" height="2" fill="#f4f4f4"/>
<rect x="572.3" y="237" width="2.4" height="2" fill="#f4f4f4"/><rect x="572.3" y="241.5" width="2.4" height="2" fill="#f4f4f4"/>
<rect x="576.5" y="237" width="2.4" height="2" fill="#f4f4f4"/><rect x="576.5" y="241.5" width="2.4" height="2" fill="#f4f4f4"/>
<rect x="580.7" y="237" width="2.4" height="2" fill="#f4f4f4"/><rect x="580.7" y="241.5" width="2.4" height="2" fill="#f4f4f4"/>
<rect x="584.9" y="237" width="2.4" height="2" fill="#f4f4f4"/><rect x="584.9" y="241.5" width="2.4" height="2" fill="#f4f4f4"/>
<rect x="589.1" y="237" width="2.4" height="2" fill="#f4f4f4"/><rect x="589.1" y="241.5" width="2.4" height="2" fill="#f4f4f4"/>
<rect x="593.3" y="237" width="2.4" height="2" fill="#f4f4f4"/><rect x="593.3" y="241.5" width="2.4" height="2" fill="#f4f4f4"/>
<rect x="597.5" y="237" width="2.4" height="2" fill="#f4f4f4"/><rect x="597.5" y="241.5" width="2.4" height="2" fill="#f4f4f4"/>
<rect x="601.7" y="237" width="2.4" height="2" fill="#f4f4f4"/><rect x="601.7" y="241.5" width="2.4" height="2" fill="#f4f4f4"/>
<rect x="605.9" y="237" width="2.4" height="2" fill="#f4f4f4"/><rect x="605.9" y="241.5" width="2.4" height="2" fill="#f4f4f4"/>
<rect x="610.1" y="237" width="2.4" height="2" fill="#f4f4f4"/><rect x="610.1" y="241.5" width="2.4" height="2" fill="#f4f4f4"/>
<rect x="614.3" y="237" width="2.4" height="2" fill="#f4f4f4"/><rect x="614.3" y="241.5" width="2.4" height="2" fill="#f4f4f4"/>
<rect x="618.5" y="237" width="2.4" height="2" fill="#f4f4f4"/><rect x="618.5" y="241.5" width="2.4" height="2" fill="#f4f4f4"/>
<rect x="622.7" y="237" width="2.4" height="2" fill="#f4f4f4"/><rect x="622.7" y="241.5" width="2.4" height="2" fill="#f4f4f4"/>
<rect x="626.9" y="237" width="2.4" height="2" fill="#f4f4f4"/><rect x="626.9" y="241.5" width="2.4" height="2" fill="#f4f4f4"/>
<rect x="631.1" y="237" width="2.4" height="2" fill="#f4f4f4"/><rect x="631.1" y="241.5" width="2.4" height="2" fill="#f4f4f4"/>
<rect x="635.3" y="237" width="2.4" height="2" fill="#f4f4f4"/><rect x="635.3" y="241.5" width="2.4" height="2" fill="#f4f4f4"/>
<rect x="639.5" y="237" width="2.4" height="2" fill="#f4f4f4"/><rect x="639.5" y="241.5" width="2.4" height="2" fill="#f4f4f4"/>
<rect x="643.7" y="237" width="2.4" height="2" fill="#f4f4f4"/><rect x="643.7" y="241.5" width="2.4" height="2" fill="#f4f4f4"/>
<rect x="647.9" y="237" width="2.4" height="2" fill="#f4f4f4"/><rect x="647.9" y="241.5" width="2.4" height="2" fill="#f4f4f4"/>
<rect x="652.1" y="237" width="2.4" height="2" fill="#f4f4f4"/><rect x="652.1" y="241.5" width="2.4" height="2" fill="#f4f4f4"/>
<rect x="655" y="234" width="37" height="15" fill="#5868c8"/>
<line x1="659" y1="236" x2="659" y2="247" stroke="#7a88d8" stroke-width="1"/>
<line x1="668" y1="236" x2="668" y2="247" stroke="#7a88d8" stroke-width="1"/>
<line x1="677" y1="236" x2="677" y2="247" stroke="#7a88d8" stroke-width="1"/>
<line x1="686" y1="236" x2="686" y2="247" stroke="#7a88d8" stroke-width="1"/>
<line x1="655" y1="240" x2="692" y2="240" stroke="#7a88d8" stroke-width="1"/><line x1="655" y1="244" x2="692" y2="244" stroke="#7a88d8" stroke-width="1"/>
<rect x="655" y="246" width="37" height="3" fill="#3a3ab8"/>
<rect x="692" y="233" width="137.6" height="13.6" fill="#6a6a6a"/>
<rect x="693.5" y="237" width="2.4" height="2" fill="#f4f4f4"/><rect x="693.5" y="241.5" width="2.4" height="2" fill="#f4f4f4"/>
<rect x="697.7" y="237" width="2.4" height="2" fill="#f4f4f4"/><rect x="697.7" y="241.5" width="2.4" height="2" fill="#f4f4f4"/>
<rect x="701.9" y="237" width="2.4" height="2" fill="#f4f4f4"/><rect x="701.9" y="241.5" width="2.4" height="2" fill="#f4f4f4"/>
<rect x="706.1" y="237" width="2.4" height="2" fill="#f4f4f4"/><rect x="706.1" y="241.5" width="2.4" height="2" fill="#f4f4f4"/>
<rect x="710.3" y="237" width="2.4" height="2" fill="#f4f4f4"/><rect x="710.3" y="241.5" width="2.4" height="2" fill="#f4f4f4"/>
<rect x="714.5" y="237" width="2.4" height="2" fill="#f4f4f4"/><rect x="714.5" y="241.5" width="2.4" height="2" fill="#f4f4f4"/>
<rect x="718.7" y="237" width="2.4" height="2" fill="#f4f4f4"/><rect x="718.7" y="241.5" width="2.4" height="2" fill="#f4f4f4"/>
<rect x="722.9" y="237" width="2.4" height="2" fill="#f4f4f4"/><rect x="722.9" y="241.5" width="2.4" height="2" fill="#f4f4f4"/>
<rect x="727.1" y="237" width="2.4" height="2" fill="#f4f4f4"/><rect x="727.1" y="241.5" width="2.4" height="2" fill="#f4f4f4"/>
<rect x="731.3" y="237" width="2.4" height="2" fill="#f4f4f4"/><rect x="731.3" y="241.5" width="2.4" height="2" fill="#f4f4f4"/>
<rect x="735.5" y="237" width="2.4" height="2" fill="#f4f4f4"/><rect x="735.5" y="241.5" width="2.4" height="2" fill="#f4f4f4"/>
<rect x="739.7" y="237" width="2.4" height="2" fill="#f4f4f4"/><rect x="739.7" y="241.5" width="2.4" height="2" fill="#f4f4f4"/>
<rect x="743.9" y="237" width="2.4" height="2" fill="#f4f4f4"/><rect x="743.9" y="241.5" width="2.4" height="2" fill="#f4f4f4"/>
<rect x="748.1" y="237" width="2.4" height="2" fill="#f4f4f4"/><rect x="748.1" y="241.5" width="2.4" height="2" fill="#f4f4f4"/>
<rect x="752.3" y="237" width="2.4" height="2" fill="#f4f4f4"/><rect x="752.3" y="241.5" width="2.4" height="2" fill="#f4f4f4"/>
<rect x="756.5" y="237" width="2.4" height="2" fill="#f4f4f4"/><rect x="756.5" y="241.5" width="2.4" height="2" fill="#f4f4f4"/>
<rect x="760.7" y="237" width="2.4" height="2" fill="#f4f4f4"/><rect x="760.7" y="241.5" width="2.4" height="2" fill="#f4f4f4"/>
<rect x="764.9" y="237" width="2.4" height="2" fill="#f4f4f4"/><rect x="764.9" y="241.5" width="2.4" height="2" fill="#f4f4f4"/>
<rect x="769.1" y="237" width="2.4" height="2" fill="#f4f4f4"/><rect x="769.1" y="241.5" width="2.4" height="2" fill="#f4f4f4"/>
<rect x="773.3" y="237" width="2.4" height="2" fill="#f4f4f4"/><rect x="773.3" y="241.5" width="2.4" height="2" fill="#f4f4f4"/>
<rect x="777.5" y="237" width="2.4" height="2" fill="#f4f4f4"/><rect x="777.5" y="241.5" width="2.4" height="2" fill="#f4f4f4"/>
<rect x="781.7" y="237" width="2.4" height="2" fill="#f4f4f4"/><rect x="781.7" y="241.5" width="2.4" height="2" fill="#f4f4f4"/>
<rect x="785.9" y="237" width="2.4" height="2" fill="#f4f4f4"/><rect x="785.9" y="241.5" width="2.4" height="2" fill="#f4f4f4"/>
<rect x="790.1" y="237" width="2.4" height="2" fill="#f4f4f4"/><rect x="790.1" y="241.5" width="2.4" height="2" fill="#f4f4f4"/>
<rect x="794.3" y="237" width="2.4" height="2" fill="#f4f4f4"/><rect x="794.3" y="241.5" width="2.4" height="2" fill="#f4f4f4"/>
<rect x="798.5" y="237" width="2.4" height="2" fill="#f4f4f4"/><rect x="798.5" y="241.5" width="2.4" height="2" fill="#f4f4f4"/>
<rect x="802.7" y="237" width="2.4" height="2" fill="#f4f4f4"/><rect x="802.7" y="241.5" width="2.4" height="2" fill="#f4f4f4"/>
<rect x="806.9" y="237" width="2.4" height="2" fill="#f4f4f4"/><rect x="806.9" y="241.5" width="2.4" height="2" fill="#f4f4f4"/>
<rect x="811.1" y="237" width="2.4" height="2" fill="#f4f4f4"/><rect x="811.1" y="241.5" width="2.4" height="2" fill="#f4f4f4"/>
<rect x="815.3" y="237" width="2.4" height="2" fill="#f4f4f4"/><rect x="815.3" y="241.5" width="2.4" height="2" fill="#f4f4f4"/>
<rect x="819.5" y="237" width="2.4" height="2" fill="#f4f4f4"/><rect x="819.5" y="241.5" width="2.4" height="2" fill="#f4f4f4"/>
<rect x="823.7" y="237" width="2.4" height="2" fill="#f4f4f4"/><rect x="823.7" y="241.5" width="2.4" height="2" fill="#f4f4f4"/>
<rect x="512" y="231" width="317.6" height="3.5" fill="#1f5a45"/>
<rect x="618.0" y="454.5" width="3" height="13" fill="#9ab0a0"/>
<rect x="724.0" y="454.5" width="3" height="13" fill="#9ab0a0"/>
<path d="M468,240.8 A111,119 0 0 1 490,233.4" fill="none" stroke="#a03020" stroke-width="2" stroke-dasharray="6 5"/>
<path d="M845,232 A114,119 0 0 1 880,243.3" fill="none" stroke="#a03020" stroke-width="2" stroke-dasharray="7 6"/>
<rect x="512.8" y="454.5" width="315.7" height="13.7" fill="#6a6a6a"/>
<rect x="514.3" y="458.5" width="2.4" height="2" fill="#f4f4f4"/><rect x="514.3" y="463.0" width="2.4" height="2" fill="#f4f4f4"/>
<rect x="518.5" y="458.5" width="2.4" height="2" fill="#f4f4f4"/><rect x="518.5" y="463.0" width="2.4" height="2" fill="#f4f4f4"/>
<rect x="522.7" y="458.5" width="2.4" height="2" fill="#f4f4f4"/><rect x="522.7" y="463.0" width="2.4" height="2" fill="#f4f4f4"/>
<rect x="526.9" y="458.5" width="2.4" height="2" fill="#f4f4f4"/><rect x="526.9" y="463.0" width="2.4" height="2" fill="#f4f4f4"/>
<rect x="531.1" y="458.5" width="2.4" height="2" fill="#f4f4f4"/><rect x="531.1" y="463.0" width="2.4" height="2" fill="#f4f4f4"/>
<rect x="535.3" y="458.5" width="2.4" height="2" fill="#f4f4f4"/><rect x="535.3" y="463.0" width="2.4" height="2" fill="#f4f4f4"/>
<rect x="539.5" y="458.5" width="2.4" height="2" fill="#f4f4f4"/><rect x="539.5" y="463.0" width="2.4" height="2" fill="#f4f4f4"/>
<rect x="543.7" y="458.5" width="2.4" height="2" fill="#f4f4f4"/><rect x="543.7" y="463.0" width="2.4" height="2" fill="#f4f4f4"/>
<rect x="547.9" y="458.5" width="2.4" height="2" fill="#f4f4f4"/><rect x="547.9" y="463.0" width="2.4" height="2" fill="#f4f4f4"/>
<rect x="552.1" y="458.5" width="2.4" height="2" fill="#f4f4f4"/><rect x="552.1" y="463.0" width="2.4" height="2" fill="#f4f4f4"/>
<rect x="556.3" y="458.5" width="2.4" height="2" fill="#f4f4f4"/><rect x="556.3" y="463.0" width="2.4" height="2" fill="#f4f4f4"/>
<rect x="560.5" y="458.5" width="2.4" height="2" fill="#f4f4f4"/><rect x="560.5" y="463.0" width="2.4" height="2" fill="#f4f4f4"/>
<rect x="564.7" y="458.5" width="2.4" height="2" fill="#f4f4f4"/><rect x="564.7" y="463.0" width="2.4" height="2" fill="#f4f4f4"/>
<rect x="568.9" y="458.5" width="2.4" height="2" fill="#f4f4f4"/><rect x="568.9" y="463.0" width="2.4" height="2" fill="#f4f4f4"/>
<rect x="573.1" y="458.5" width="2.4" height="2" fill="#f4f4f4"/><rect x="573.1" y="463.0" width="2.4" height="2" fill="#f4f4f4"/>
<rect x="577.3" y="458.5" width="2.4" height="2" fill="#f4f4f4"/><rect x="577.3" y="463.0" width="2.4" height="2" fill="#f4f4f4"/>
<rect x="581.5" y="458.5" width="2.4" height="2" fill="#f4f4f4"/><rect x="581.5" y="463.0" width="2.4" height="2" fill="#f4f4f4"/>
<rect x="585.7" y="458.5" width="2.4" height="2" fill="#f4f4f4"/><rect x="585.7" y="463.0" width="2.4" height="2" fill="#f4f4f4"/>
<rect x="589.9" y="458.5" width="2.4" height="2" fill="#f4f4f4"/><rect x="589.9" y="463.0" width="2.4" height="2" fill="#f4f4f4"/>
<rect x="594.1" y="458.5" width="2.4" height="2" fill="#f4f4f4"/><rect x="594.1" y="463.0" width="2.4" height="2" fill="#f4f4f4"/>
<rect x="598.3" y="458.5" width="2.4" height="2" fill="#f4f4f4"/><rect x="598.3" y="463.0" width="2.4" height="2" fill="#f4f4f4"/>
<rect x="602.5" y="458.5" width="2.4" height="2" fill="#f4f4f4"/><rect x="602.5" y="463.0" width="2.4" height="2" fill="#f4f4f4"/>
<rect x="606.7" y="458.5" width="2.4" height="2" fill="#f4f4f4"/><rect x="606.7" y="463.0" width="2.4" height="2" fill="#f4f4f4"/>
<rect x="610.9" y="458.5" width="2.4" height="2" fill="#f4f4f4"/><rect x="610.9" y="463.0" width="2.4" height="2" fill="#f4f4f4"/>
<rect x="615.1" y="458.5" width="2.4" height="2" fill="#f4f4f4"/><rect x="615.1" y="463.0" width="2.4" height="2" fill="#f4f4f4"/>
<rect x="619.3" y="458.5" width="2.4" height="2" fill="#f4f4f4"/><rect x="619.3" y="463.0" width="2.4" height="2" fill="#f4f4f4"/>
<rect x="623.5" y="458.5" width="2.4" height="2" fill="#f4f4f4"/><rect x="623.5" y="463.0" width="2.4" height="2" fill="#f4f4f4"/>
<rect x="627.7" y="458.5" width="2.4" height="2" fill="#f4f4f4"/><rect x="627.7" y="463.0" width="2.4" height="2" fill="#f4f4f4"/>
<rect x="631.9" y="458.5" width="2.4" height="2" fill="#f4f4f4"/><rect x="631.9" y="463.0" width="2.4" height="2" fill="#f4f4f4"/>
<rect x="636.1" y="458.5" width="2.4" height="2" fill="#f4f4f4"/><rect x="636.1" y="463.0" width="2.4" height="2" fill="#f4f4f4"/>
<rect x="640.3" y="458.5" width="2.4" height="2" fill="#f4f4f4"/><rect x="640.3" y="463.0" width="2.4" height="2" fill="#f4f4f4"/>
<rect x="644.5" y="458.5" width="2.4" height="2" fill="#f4f4f4"/><rect x="644.5" y="463.0" width="2.4" height="2" fill="#f4f4f4"/>
<rect x="648.7" y="458.5" width="2.4" height="2" fill="#f4f4f4"/><rect x="648.7" y="463.0" width="2.4" height="2" fill="#f4f4f4"/>
<rect x="652.9" y="458.5" width="2.4" height="2" fill="#f4f4f4"/><rect x="652.9" y="463.0" width="2.4" height="2" fill="#f4f4f4"/>
<rect x="657.1" y="458.5" width="2.4" height="2" fill="#f4f4f4"/><rect x="657.1" y="463.0" width="2.4" height="2" fill="#f4f4f4"/>
<rect x="661.3" y="458.5" width="2.4" height="2" fill="#f4f4f4"/><rect x="661.3" y="463.0" width="2.4" height="2" fill="#f4f4f4"/>
<rect x="665.5" y="458.5" width="2.4" height="2" fill="#f4f4f4"/><rect x="665.5" y="463.0" width="2.4" height="2" fill="#f4f4f4"/>
<rect x="669.7" y="458.5" width="2.4" height="2" fill="#f4f4f4"/><rect x="669.7" y="463.0" width="2.4" height="2" fill="#f4f4f4"/>
<rect x="673.9" y="458.5" width="2.4" height="2" fill="#f4f4f4"/><rect x="673.9" y="463.0" width="2.4" height="2" fill="#f4f4f4"/>
<rect x="678.1" y="458.5" width="2.4" height="2" fill="#f4f4f4"/><rect x="678.1" y="463.0" width="2.4" height="2" fill="#f4f4f4"/>
<rect x="682.3" y="458.5" width="2.4" height="2" fill="#f4f4f4"/><rect x="682.3" y="463.0" width="2.4" height="2" fill="#f4f4f4"/>
<rect x="686.5" y="458.5" width="2.4" height="2" fill="#f4f4f4"/><rect x="686.5" y="463.0" width="2.4" height="2" fill="#f4f4f4"/>
<rect x="690.7" y="458.5" width="2.4" height="2" fill="#f4f4f4"/><rect x="690.7" y="463.0" width="2.4" height="2" fill="#f4f4f4"/>
<rect x="694.9" y="458.5" width="2.4" height="2" fill="#f4f4f4"/><rect x="694.9" y="463.0" width="2.4" height="2" fill="#f4f4f4"/>
<rect x="699.1" y="458.5" width="2.4" height="2" fill="#f4f4f4"/><rect x="699.1" y="463.0" width="2.4" height="2" fill="#f4f4f4"/>
<rect x="703.3" y="458.5" width="2.4" height="2" fill="#f4f4f4"/><rect x="703.3" y="463.0" width="2.4" height="2" fill="#f4f4f4"/>
<rect x="707.5" y="458.5" width="2.4" height="2" fill="#f4f4f4"/><rect x="707.5" y="463.0" width="2.4" height="2" fill="#f4f4f4"/>
<rect x="711.7" y="458.5" width="2.4" height="2" fill="#f4f4f4"/><rect x="711.7" y="463.0" width="2.4" height="2" fill="#f4f4f4"/>
<rect x="715.9" y="458.5" width="2.4" height="2" fill="#f4f4f4"/><rect x="715.9" y="463.0" width="2.4" height="2" fill="#f4f4f4"/>
<rect x="720.1" y="458.5" width="2.4" height="2" fill="#f4f4f4"/><rect x="720.1" y="463.0" width="2.4" height="2" fill="#f4f4f4"/>
<rect x="724.3" y="458.5" width="2.4" height="2" fill="#f4f4f4"/><rect x="724.3" y="463.0" width="2.4" height="2" fill="#f4f4f4"/>
<rect x="728.5" y="458.5" width="2.4" height="2" fill="#f4f4f4"/><rect x="728.5" y="463.0" width="2.4" height="2" fill="#f4f4f4"/>
<rect x="732.7" y="458.5" width="2.4" height="2" fill="#f4f4f4"/><rect x="732.7" y="463.0" width="2.4" height="2" fill="#f4f4f4"/>
<rect x="736.9" y="458.5" width="2.4" height="2" fill="#f4f4f4"/><rect x="736.9" y="463.0" width="2.4" height="2" fill="#f4f4f4"/>
<rect x="741.1" y="458.5" width="2.4" height="2" fill="#f4f4f4"/><rect x="741.1" y="463.0" width="2.4" height="2" fill="#f4f4f4"/>
<rect x="745.3" y="458.5" width="2.4" height="2" fill="#f4f4f4"/><rect x="745.3" y="463.0" width="2.4" height="2" fill="#f4f4f4"/>
<rect x="749.5" y="458.5" width="2.4" height="2" fill="#f4f4f4"/><rect x="749.5" y="463.0" width="2.4" height="2" fill="#f4f4f4"/>
<rect x="753.7" y="458.5" width="2.4" height="2" fill="#f4f4f4"/><rect x="753.7" y="463.0" width="2.4" height="2" fill="#f4f4f4"/>
<rect x="757.9" y="458.5" width="2.4" height="2" fill="#f4f4f4"/><rect x="757.9" y="463.0" width="2.4" height="2" fill="#f4f4f4"/>
<rect x="762.1" y="458.5" width="2.4" height="2" fill="#f4f4f4"/><rect x="762.1" y="463.0" width="2.4" height="2" fill="#f4f4f4"/>
<rect x="766.3" y="458.5" width="2.4" height="2" fill="#f4f4f4"/><rect x="766.3" y="463.0" width="2.4" height="2" fill="#f4f4f4"/>
<rect x="770.5" y="458.5" width="2.4" height="2" fill="#f4f4f4"/><rect x="770.5" y="463.0" width="2.4" height="2" fill="#f4f4f4"/>
<rect x="774.7" y="458.5" width="2.4" height="2" fill="#f4f4f4"/><rect x="774.7" y="463.0" width="2.4" height="2" fill="#f4f4f4"/>
<rect x="778.9" y="458.5" width="2.4" height="2" fill="#f4f4f4"/><rect x="778.9" y="463.0" width="2.4" height="2" fill="#f4f4f4"/>
<rect x="783.1" y="458.5" width="2.4" height="2" fill="#f4f4f4"/><rect x="783.1" y="463.0" width="2.4" height="2" fill="#f4f4f4"/>
<rect x="787.3" y="458.5" width="2.4" height="2" fill="#f4f4f4"/><rect x="787.3" y="463.0" width="2.4" height="2" fill="#f4f4f4"/>
<rect x="791.5" y="458.5" width="2.4" height="2" fill="#f4f4f4"/><rect x="791.5" y="463.0" width="2.4" height="2" fill="#f4f4f4"/>
<rect x="795.7" y="458.5" width="2.4" height="2" fill="#f4f4f4"/><rect x="795.7" y="463.0" width="2.4" height="2" fill="#f4f4f4"/>
<rect x="799.9" y="458.5" width="2.4" height="2" fill="#f4f4f4"/><rect x="799.9" y="463.0" width="2.4" height="2" fill="#f4f4f4"/>
<rect x="804.1" y="458.5" width="2.4" height="2" fill="#f4f4f4"/><rect x="804.1" y="463.0" width="2.4" height="2" fill="#f4f4f4"/>
<rect x="808.3" y="458.5" width="2.4" height="2" fill="#f4f4f4"/><rect x="808.3" y="463.0" width="2.4" height="2" fill="#f4f4f4"/>
<rect x="812.5" y="458.5" width="2.4" height="2" fill="#f4f4f4"/><rect x="812.5" y="463.0" width="2.4" height="2" fill="#f4f4f4"/>
<rect x="816.7" y="458.5" width="2.4" height="2" fill="#f4f4f4"/><rect x="816.7" y="463.0" width="2.4" height="2" fill="#f4f4f4"/>
<rect x="820.9" y="458.5" width="2.4" height="2" fill="#f4f4f4"/><rect x="820.9" y="463.0" width="2.4" height="2" fill="#f4f4f4"/>
<rect x="825.1" y="458.5" width="2.4" height="2" fill="#f4f4f4"/><rect x="825.1" y="463.0" width="2.4" height="2" fill="#f4f4f4"/>
<rect x="512.8" y="463.5" width="315.7" height="4.8" fill="#1f4f4a"/>
<path d="M510,450 A90,100 0 0 1 510,250 L830,250 A94,100 0 0 1 830,450" fill="none" stroke="#3030b4" stroke-width="2.5"/><line x1="510" y1="450.2" x2="830" y2="450.2" stroke="#4a4aa8" stroke-width="1.6"/>
<path d="M510,435.5 A76,85.5 0 0 1 510,264.5 L833,264.5 A77,85.5 0 0 1 833,435.5" fill="none" stroke="#3030b4" stroke-width="2.4"/><line x1="510" y1="435.6" x2="833" y2="435.6" stroke="#5050a8" stroke-width="1.3"/>
<rect x="510.5" y="267.5" width="322.9" height="164.7" fill="#72cdbc" stroke="#2828c8" stroke-width="1.9"/>
<line x1="671.6" y1="268.5" x2="671.6" y2="431.5" stroke="#4b5a2a" stroke-width="1.2"/>
<line x1="673" y1="268.5" x2="673" y2="431.5" stroke="#f0f0e0" stroke-width="0.8" stroke-dasharray="2 1"/>
<circle cx="671.7" cy="350" r="32" fill="none" stroke="#3b6b3b" stroke-width="2.4"/>
<circle cx="671.6" cy="350.3" r="12.2" fill="#ff0a0a" stroke="#4a1010" stroke-width="1.2"/>
<line x1="540" y1="249" x2="540" y2="257" stroke="#404090" stroke-width="2"/>
<line x1="627.6" y1="249" x2="627.6" y2="257" stroke="#404090" stroke-width="2"/>
<line x1="714.8" y1="249" x2="714.8" y2="257" stroke="#404090" stroke-width="2"/>
<line x1="803.8" y1="249" x2="803.8" y2="257" stroke="#404090" stroke-width="2"/>
<line x1="539" y1="445" x2="539" y2="454" stroke="#404090" stroke-width="1.6"/>
<line x1="626.4" y1="445" x2="626.4" y2="454" stroke="#404090" stroke-width="1.6"/>
<line x1="714.8" y1="445" x2="714.8" y2="454" stroke="#404090" stroke-width="1.6"/>
<line x1="802.6" y1="445" x2="802.6" y2="454" stroke="#404090" stroke-width="1.6"/>
<line x1="415" y1="350" x2="425" y2="350" stroke="#404090" stroke-width="2"/>
<line x1="918" y1="350" x2="928" y2="350" stroke="#404090" stroke-width="2"/>
<line x1="510" y1="252" x2="510" y2="263" stroke="#f0b080" stroke-width="1.4"/>
<line x1="833" y1="252" x2="833" y2="263" stroke="#f0b080" stroke-width="1.2"/>
<line x1="512.8" y1="437" x2="512.8" y2="503" stroke="#e07030" stroke-width="1.3"/>
<line x1="829" y1="437" x2="829" y2="503" stroke="#e07030" stroke-width="1.3"/>
<rect x="447.4" y="337" width="25.1" height="25" fill="#f02020" stroke="#5a1a1a" stroke-width="1.2"/>
<line x1="474.5" y1="333.5" x2="486" y2="323" stroke="#333" stroke-width="2.2" stroke-dasharray="2.2 2.2"/>
<line x1="474.5" y1="366" x2="486" y2="377.5" stroke="#333" stroke-width="2.2" stroke-dasharray="2.2 2.2"/>
<rect x="505" y="346" width="5" height="9" fill="#202060"/>
<path d="M452.4,449.6 Q480,466 512.8,468" fill="none" stroke="#b02020" stroke-width="1.6"/>
<path d="M889,449.9 Q860,466 828.5,468" fill="none" stroke="#b02020" stroke-width="1.6"/>
<path d="M470,462 l3,7 l4,-5 l3,6 l5,-6" fill="none" stroke="#2a9a9a" stroke-width="1"/>
<path d="M850,465 l3,6 l4,-5 l3,6 l5,-7" fill="none" stroke="#2a9a9a" stroke-width="1"/>
<rect x="616.6" y="902.3" width="438.4" height="292.2" fill="#fff" stroke="#14291f" stroke-width="1.6"/>
<rect x="674.7" y="918.6" width="35.7" height="24.8" fill="#8e9fca" stroke="#333" stroke-width="1.6"/>
<rect x="676.2" y="925.3" width="7" height="16.5" rx="1" fill="#666" stroke="#828282" stroke-width="0.9"/>
<rect x="678.3" y="927.1" width="2.8" height="1.2" fill="#d8d8d8"/>
<rect x="678.3" y="929.4" width="2.8" height="1.2" fill="#d8d8d8"/>
<rect x="678.5" y="931.8" width="2.4" height="5.9" rx="0.8" fill="#fff"/>
<rect x="678.8" y="938.6" width="1.8" height="1.4" fill="#e6e6e6"/>
<rect x="685.0" y="925.3" width="7" height="16.5" rx="1" fill="#666" stroke="#828282" stroke-width="0.9"/>
<rect x="687.1" y="927.1" width="2.8" height="1.2" fill="#d8d8d8"/>
<rect x="687.1" y="929.4" width="2.8" height="1.2" fill="#d8d8d8"/>
<rect x="687.3" y="931.8" width="2.4" height="5.9" rx="0.8" fill="#fff"/>
<rect x="687.6" y="938.6" width="1.8" height="1.4" fill="#e6e6e6"/>
<line x1="684.0" y1="923.5" x2="684.0" y2="942.8" stroke="#1c1c2c" stroke-width="1"/>
<rect x="693.8" y="925.3" width="7" height="16.5" rx="1" fill="#666" stroke="#828282" stroke-width="0.9"/>
<rect x="695.9" y="927.1" width="2.8" height="1.2" fill="#d8d8d8"/>
<rect x="695.9" y="929.4" width="2.8" height="1.2" fill="#d8d8d8"/>
<rect x="696.1" y="931.8" width="2.4" height="5.9" rx="0.8" fill="#fff"/>
<rect x="696.4" y="938.6" width="1.8" height="1.4" fill="#e6e6e6"/>
<line x1="692.8" y1="923.5" x2="692.8" y2="942.8" stroke="#1c1c2c" stroke-width="1"/>
<rect x="702.6" y="925.3" width="7" height="16.5" rx="1" fill="#666" stroke="#828282" stroke-width="0.9"/>
<rect x="704.7" y="927.1" width="2.8" height="1.2" fill="#d8d8d8"/>
<rect x="704.7" y="929.4" width="2.8" height="1.2" fill="#d8d8d8"/>
<rect x="704.9" y="931.8" width="2.4" height="5.9" rx="0.8" fill="#fff"/>
<rect x="705.2" y="938.6" width="1.8" height="1.4" fill="#e6e6e6"/>
<line x1="701.6" y1="923.5" x2="701.6" y2="942.8" stroke="#1c1c2c" stroke-width="1"/>
<rect x="674.7" y="954.7" width="35.7" height="24.8" fill="#ffa8a8" stroke="#222" stroke-width="1.6"/>
<rect x="674.7" y="989.5" width="35.7" height="25.5" fill="#80d4ff" stroke="#222" stroke-width="1.6"/>
<rect x="674.7" y="1026.3" width="35.7" height="27.1" fill="#ff8000" stroke="#222" stroke-width="1.6"/>
<text transform="translate(728.9,940.0) scale(0.68,1)" x="0" y="0" font-size="20" fill="#262626" textLength="212.5" lengthAdjust="spacing">Зона для парковки</text>
<text transform="translate(728.9,973.8) scale(0.68,1)" x="0" y="0" font-size="20" fill="#262626" textLength="151.0" lengthAdjust="spacing">Игровые зоны</text>
<text transform="translate(728.9,1004.3) scale(0.68,1)" x="0" y="0" font-size="20" fill="#262626" textLength="214.3" lengthAdjust="spacing">Зона для торговли</text>
<text transform="translate(728.9,1020.1) scale(0.68,1)" x="0" y="0" font-size="20" fill="#262626" textLength="388.4" lengthAdjust="spacing">сельскохозяйственной продук<tspan fill="#707070">цией</tspan></text>
<text transform="translate(728.9,1047.2) scale(0.68,1)" x="0" y="0" font-size="20" fill="#262626" textLength="464.1" lengthAdjust="spacing">Зона для сельскохозяйствен<tspan fill="#707070">ной техники</tspan></text>
<rect x="639.9" y="1082.9" width="25.8" height="25.2" fill="#ee2a2a" stroke="#222" stroke-width="1.4"/>
<circle cx="687.6" cy="1095.4" r="12.6" fill="#ff0a0a" stroke="#222" stroke-width="1.4"/>
<circle cx="670.5" cy="1132.3" r="11" fill="#fff" stroke="#222" stroke-width="1.2"/>
<rect x="660.6" y="1158.9" width="21.1" height="20.5" fill="#ffff00" stroke="#222" stroke-width="1.4"/>
<text transform="translate(722.5,1103.2) scale(0.73,1)" x="0" y="0" font-size="19" fill="#262626" textLength="61.0" lengthAdjust="spacing">Сцены</text>
<text transform="translate(722.5,1140.8) scale(0.76,1)" x="0" y="0" font-size="19" fill="#262626" textLength="51.3" lengthAdjust="spacing">Юрта</text>
<text transform="translate(724,1179.9) scale(0.68,1)" x="0" y="0" font-size="19" fill="#262626" textLength="208.1" lengthAdjust="spacing">Торговые палатки</text>
<rect x="880" y="1088.5" width="20.1" height="12.4" fill="#7d3c3c" stroke="#222" stroke-width="1.4"/>
<rect x="880" y="1127.9" width="20.1" height="12.1" fill="#6e6e6e" stroke="#222" stroke-width="1.4"/>
<text transform="translate(919.8,1102.9) scale(0.8,1)" x="0" y="0" font-size="18" fill="#262626" textLength="82.1" lengthAdjust="spacing">Туа<tspan fill="#707070">леты</tspan></text>
<text transform="translate(919.6,1134.9) scale(0.8,1)" x="0" y="0" font-size="17" fill="#262626" textLength="87.4" lengthAdjust="spacing">Мусо<tspan fill="#707070">рные</tspan></text>
<text transform="translate(919.6,1151.0) scale(0.8,1)" x="0" y="0" font-size="17" fill="#262626" textLength="112.4" lengthAdjust="spacing">конт<tspan fill="#707070">ейнеры</tspan></text>
</svg></body></html>
